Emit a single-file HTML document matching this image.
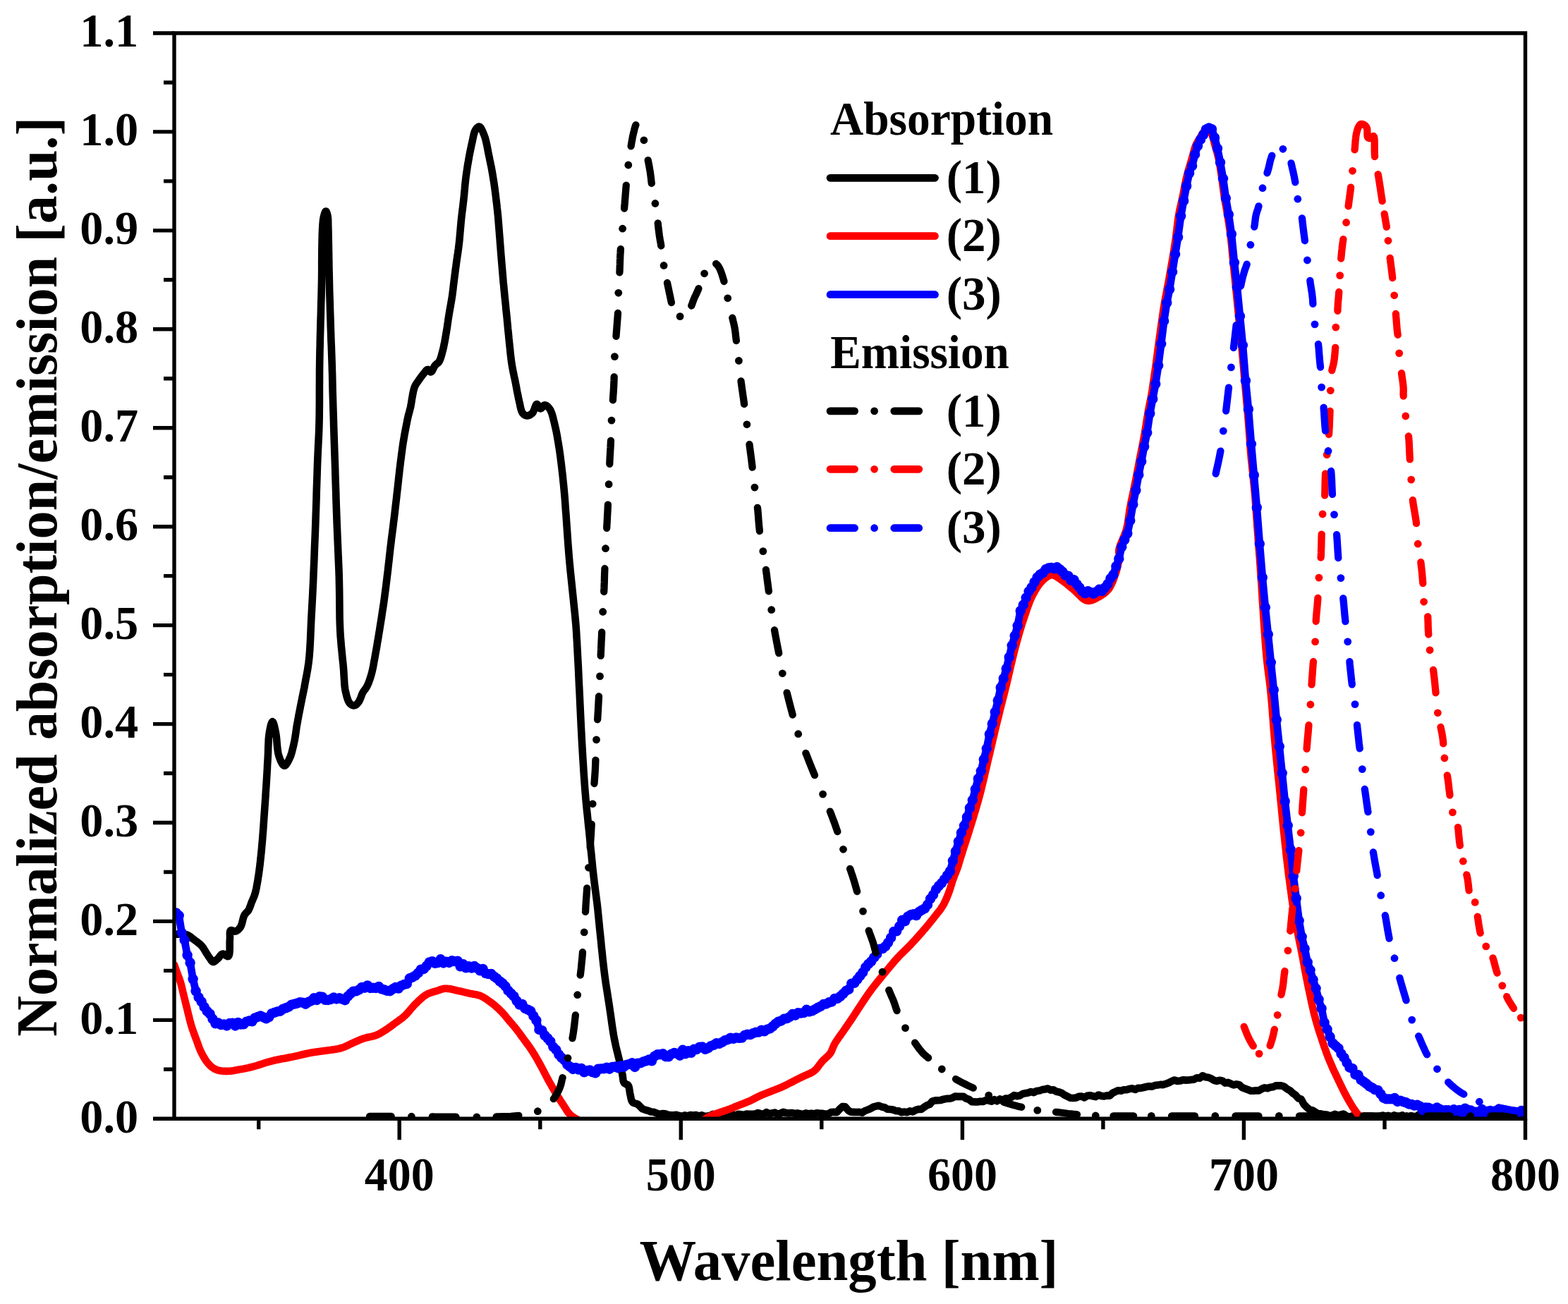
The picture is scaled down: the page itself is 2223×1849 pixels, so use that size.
<!DOCTYPE html><html><head><meta charset="utf-8"><title>Normalized absorption/emission spectra</title><style>html,body{margin:0;padding:0;background:#fff}svg{display:block}text{font-family:"Liberation Serif","Times New Roman",serif;font-weight:bold}</style></head><body>
<svg width="2223" height="1849" viewBox="0 0 2223 1849">
<rect width="2223" height="1849" fill="#fff"/>
<defs><clipPath id="c"><rect x="247.0" y="47.0" width="1915.5" height="1539.3"/></clipPath></defs>
<g clip-path="url(#c)" fill="none" stroke-linejoin="round" stroke-linecap="round">
<path d="M247.0 1325.0L248.1 1324.9 249.2 1324.8 250.4 1324.7 251.5 1324.6 252.6 1324.6 253.7 1324.5 254.9 1324.5 256.0 1324.5 257.2 1324.5 258.5 1324.6 259.7 1324.7 261.0 1324.8 262.2 1324.9 263.4 1325.1 264.6 1325.4 265.8 1325.8 266.9 1326.3 268.0 1326.9 269.1 1327.6 270.1 1328.4 271.1 1329.2 272.1 1330.1 273.2 1330.9 274.3 1331.8 275.7 1332.8 277.2 1333.9 278.7 1335.0 280.2 1336.1 281.7 1337.3 283.2 1338.5 284.5 1339.7 285.8 1341.0 286.9 1342.3 287.9 1343.7 288.8 1345.1 289.7 1346.6 290.6 1348.0 291.4 1349.4 292.2 1350.8 293.0 1352.0 293.6 1352.9 294.1 1353.7 294.6 1354.5 295.1 1355.3 295.6 1356.1 296.1 1356.8 296.7 1357.6 297.2 1358.3 297.8 1359.1 298.3 1360.0 298.9 1360.9 299.5 1361.8 300.1 1362.6 300.7 1363.3 301.3 1363.8 302.0 1364.0 302.8 1364.0 303.6 1363.6 304.4 1363.1 305.3 1362.5 306.1 1361.7 307.0 1360.9 307.9 1360.1 308.7 1359.4 309.6 1358.6 310.4 1357.6 311.3 1356.5 312.1 1355.4 312.9 1354.4 313.8 1353.5 314.7 1352.9 315.6 1352.5 316.6 1352.6 317.6 1353.0 318.7 1353.7 319.8 1354.5 320.9 1355.2 321.9 1355.8 322.8 1356.1 323.6 1356.0 324.6 1354.7 325.2 1352.4 325.5 1349.4 325.7 1345.8 325.7 1342.0 325.7 1338.3 325.7 1334.8 325.9 1331.9 326.0 1330.0 326.0 1328.1 325.9 1326.2 325.9 1324.3 325.9 1322.7 326.1 1321.2 326.4 1320.1 327.0 1319.3 327.6 1319.1 328.4 1319.1 329.2 1319.3 330.2 1319.7 331.1 1320.1 332.1 1320.4 333.0 1320.6 333.9 1320.5 334.8 1320.2 335.8 1319.7 336.7 1319.1 337.6 1318.4 338.4 1317.6 339.3 1316.7 340.1 1315.7 340.8 1314.7 341.7 1313.0 342.5 1311.0 343.2 1308.7 343.8 1306.3 344.4 1303.8 345.0 1301.5 345.7 1299.4 346.5 1297.6 347.2 1296.6 347.9 1295.6 348.6 1294.8 349.4 1294.0 350.1 1293.3 350.9 1292.5 351.6 1291.7 352.2 1290.7 352.9 1289.4 353.5 1288.1 354.1 1286.7 354.6 1285.2 355.2 1283.7 355.7 1282.2 356.2 1280.7 356.8 1279.2 357.4 1277.8 358.0 1276.4 358.6 1275.0 359.2 1273.6 359.8 1272.2 360.4 1270.8 360.9 1269.3 361.4 1267.8 361.9 1266.0 362.4 1264.1 362.8 1262.2 363.3 1260.2 363.7 1258.2 364.0 1256.1 364.4 1254.0 364.8 1251.8 365.3 1249.2 365.7 1246.5 366.1 1243.7 366.6 1240.9 367.0 1238.0 367.4 1235.1 367.8 1232.0 368.2 1228.9 368.7 1225.0 369.1 1220.9 369.6 1216.7 370.0 1212.5 370.5 1208.1 370.9 1203.6 371.3 1199.1 371.7 1194.5 372.2 1189.0 372.6 1183.4 373.1 1177.5 373.5 1171.6 373.9 1165.7 374.3 1159.8 374.7 1154.2 375.1 1148.7 375.4 1144.2 375.7 1139.8 376.0 1135.6 376.3 1131.4 376.6 1127.2 376.8 1123.0 377.1 1118.8 377.4 1114.4 377.7 1109.6 378.0 1104.7 378.3 1099.7 378.6 1094.7 378.9 1089.7 379.1 1084.8 379.4 1079.8 379.7 1075.0 379.9 1070.4 380.1 1065.8 380.2 1061.1 380.4 1056.5 380.6 1052.1 380.8 1047.8 381.2 1043.7 381.7 1040.0 382.1 1037.4 382.7 1034.6 383.2 1031.8 383.8 1029.2 384.4 1026.8 385.1 1025.0 385.7 1023.8 386.3 1023.3 386.9 1023.7 387.5 1024.8 388.1 1026.5 388.7 1028.6 389.3 1031.0 389.8 1033.5 390.4 1036.1 390.9 1038.5 391.5 1042.2 392.0 1046.3 392.4 1050.8 392.8 1055.4 393.2 1060.0 393.8 1064.4 394.5 1068.5 395.4 1072.0 396.2 1074.3 397.0 1076.6 398.0 1078.9 399.0 1081.0 400.0 1082.9 401.0 1084.4 402.1 1085.4 403.1 1085.8 404.0 1085.6 405.0 1084.8 406.0 1083.6 407.0 1082.1 408.0 1080.5 409.0 1078.6 409.9 1076.8 410.7 1075.1 411.7 1072.9 412.6 1070.4 413.4 1067.9 414.1 1065.2 414.8 1062.4 415.5 1059.5 416.2 1056.7 416.8 1053.8 417.5 1050.5 418.1 1047.2 418.7 1043.7 419.2 1040.2 419.7 1036.7 420.2 1033.1 420.7 1029.7 421.3 1026.3 421.9 1023.2 422.4 1020.2 423.0 1017.2 423.5 1014.2 424.1 1011.2 424.7 1008.2 425.3 1005.2 425.9 1002.0 426.6 998.4 427.4 994.7 428.1 990.9 428.9 987.1 429.7 983.3 430.5 979.4 431.3 975.5 432.0 971.5 432.8 967.1 433.6 962.8 434.5 958.4 435.3 953.9 436.1 949.3 436.8 944.7 437.5 939.9 438.1 934.9 438.7 928.5 439.2 921.9 439.6 914.9 440.0 907.8 440.3 900.7 440.6 893.6 440.9 886.7 441.2 880.0 441.5 874.2 441.8 868.6 442.1 863.2 442.4 857.9 442.7 852.4 443.0 846.7 443.3 840.7 443.6 834.3 444.1 824.4 444.5 813.7 445.0 802.3 445.5 790.6 445.9 778.6 446.4 766.5 446.9 754.5 447.3 742.9 447.7 731.3 448.1 719.4 448.5 707.4 448.8 695.5 449.2 683.8 449.6 672.4 449.9 661.6 450.3 651.4 450.6 644.3 450.9 637.8 451.2 631.5 451.5 625.5 451.8 619.5 452.1 613.3 452.3 606.9 452.5 600.0 452.7 590.7 452.8 580.8 452.9 570.4 452.9 559.8 452.9 549.3 453.0 539.0 453.0 529.1 453.1 520.0 453.2 513.5 453.3 507.3 453.4 501.5 453.5 495.8 453.7 490.1 453.8 484.3 453.9 478.3 454.1 472.0 454.3 464.1 454.5 455.9 454.8 447.6 455.0 439.1 455.2 430.4 455.5 421.6 455.7 412.8 455.9 404.0 456.1 394.0 456.2 383.4 456.2 372.3 456.3 361.4 456.4 350.8 456.6 341.0 456.8 332.2 457.1 325.0 457.3 322.1 457.4 319.4 457.6 317.0 457.8 314.7 458.0 312.6 458.3 310.6 458.6 308.8 459.0 307.0 459.3 305.8 459.7 304.5 460.0 303.3 460.4 302.1 460.8 301.1 461.2 300.2 461.6 299.7 462.0 299.5 462.3 299.7 462.7 300.1 463.0 300.9 463.4 301.8 463.7 302.8 464.0 303.9 464.3 305.0 464.5 306.0 464.8 307.5 464.9 309.0 465.1 310.6 465.1 312.3 465.2 314.2 465.2 316.2 465.2 318.5 465.3 321.0 465.5 328.2 465.7 337.2 465.9 347.6 466.1 358.8 466.3 370.5 466.5 382.3 466.8 393.6 467.0 404.0 467.2 412.9 467.5 421.8 467.8 430.5 468.0 439.2 468.3 447.7 468.6 456.0 468.8 464.1 469.1 472.0 469.3 478.4 469.5 484.7 469.8 490.8 470.0 496.8 470.2 502.7 470.4 508.5 470.6 514.3 470.8 520.0 470.9 525.1 471.1 529.9 471.2 534.6 471.3 539.2 471.4 544.0 471.5 548.9 471.6 554.2 471.8 560.0 472.1 569.6 472.4 580.2 472.8 591.5 473.1 603.4 473.5 615.5 473.9 627.7 474.3 639.7 474.7 651.4 475.1 662.9 475.4 674.5 475.8 686.1 476.2 697.7 476.5 709.2 476.9 720.6 477.3 731.9 477.7 742.9 478.1 752.7 478.5 762.4 478.9 771.9 479.3 781.4 479.7 790.8 480.1 800.1 480.5 809.5 480.8 819.0 481.0 828.6 481.2 838.4 481.3 848.3 481.4 858.1 481.5 867.8 481.6 877.3 481.9 886.5 482.3 895.3 482.7 902.3 483.3 909.2 483.8 915.9 484.5 922.5 485.1 928.9 485.7 935.1 486.4 941.1 486.9 947.0 487.3 951.6 487.5 956.2 487.8 960.7 488.1 965.0 488.3 969.2 488.7 973.2 489.2 977.0 489.9 980.6 490.5 983.1 491.1 985.6 491.7 988.0 492.5 990.3 493.2 992.5 494.1 994.4 495.0 996.1 496.0 997.4 496.7 998.1 497.4 998.7 498.2 999.2 499.0 999.7 499.8 1000.0 500.6 1000.3 501.3 1000.4 502.1 1000.4 502.9 1000.2 503.7 999.9 504.5 999.5 505.3 998.9 506.0 998.2 506.8 997.4 507.5 996.6 508.2 995.8 509.1 994.5 509.9 992.9 510.6 991.1 511.4 989.3 512.1 987.4 512.8 985.5 513.5 983.7 514.3 982.1 515.0 980.9 515.8 979.7 516.6 978.7 517.4 977.6 518.2 976.6 518.9 975.5 519.7 974.3 520.4 973.0 521.3 971.2 522.1 969.3 522.9 967.4 523.6 965.3 524.4 963.2 525.1 960.9 525.8 958.6 526.5 956.2 527.4 952.9 528.2 949.3 529.0 945.6 529.7 941.7 530.4 937.8 531.2 933.7 531.9 929.7 532.6 925.7 533.4 921.3 534.2 916.8 534.9 912.3 535.7 907.8 536.5 903.2 537.2 898.5 538.0 893.9 538.7 889.2 539.5 884.3 540.3 879.4 541.1 874.4 541.8 869.4 542.6 864.3 543.4 859.4 544.1 854.4 544.8 849.5 545.4 844.9 546.0 840.3 546.6 835.8 547.2 831.3 547.7 826.7 548.3 822.2 548.8 817.6 549.4 813.0 550.0 808.1 550.5 803.2 551.1 798.2 551.7 793.2 552.2 788.1 552.8 783.1 553.3 778.2 553.9 773.3 554.5 768.7 555.0 764.1 555.6 759.6 556.2 755.0 556.8 750.5 557.4 746.0 557.9 741.4 558.5 736.8 559.1 731.9 559.7 727.0 560.2 722.1 560.8 717.1 561.4 712.1 562.0 707.1 562.5 702.2 563.1 697.2 563.7 692.2 564.2 687.2 564.8 682.2 565.3 677.1 565.9 672.1 566.4 667.2 567.0 662.3 567.6 657.5 568.1 653.2 568.7 648.9 569.2 644.7 569.8 640.5 570.3 636.4 570.9 632.2 571.5 628.1 572.2 624.0 572.9 619.9 573.6 615.7 574.4 611.5 575.2 607.3 576.0 603.2 576.8 599.2 577.5 595.5 578.3 592.0 578.8 589.7 579.4 587.5 579.9 585.4 580.5 583.4 581.0 581.4 581.5 579.5 582.0 577.6 582.4 575.6 582.7 573.8 583.0 572.1 583.3 570.3 583.6 568.6 583.8 566.9 584.1 565.2 584.4 563.5 584.7 561.8 585.0 560.0 585.4 558.3 585.7 556.5 586.1 554.7 586.5 552.9 587.0 551.2 587.5 549.5 588.1 548.0 588.7 546.7 589.3 545.6 590.0 544.4 590.7 543.3 591.5 542.2 592.3 541.2 593.0 540.1 593.8 539.0 594.6 537.8 595.5 536.6 596.3 535.4 597.2 534.2 598.1 533.1 599.0 531.9 599.8 530.8 600.7 529.8 601.4 528.9 602.1 528.0 602.9 527.0 603.6 526.1 604.3 525.3 605.0 524.6 605.7 524.2 606.4 524.0 607.0 524.1 607.6 524.5 608.2 525.1 608.7 525.8 609.3 526.5 609.9 527.1 610.4 527.4 611.0 527.5 611.7 527.1 612.4 526.3 613.1 525.1 613.8 523.7 614.5 522.2 615.2 520.8 615.9 519.4 616.7 518.3 617.4 517.5 618.1 516.8 618.9 516.2 619.7 515.6 620.4 515.0 621.2 514.4 621.9 513.6 622.5 512.7 623.3 511.2 624.1 509.6 624.7 507.8 625.3 505.9 625.9 503.9 626.5 501.8 627.0 499.7 627.6 497.5 628.3 494.7 629.0 491.7 629.6 488.5 630.3 485.3 630.9 482.1 631.5 478.8 632.0 475.5 632.6 472.3 633.1 469.2 633.6 466.0 634.1 462.9 634.5 459.7 635.0 456.5 635.4 453.4 635.9 450.2 636.4 447.1 636.9 444.0 637.5 440.8 638.0 437.7 638.6 434.6 639.1 431.4 639.7 428.3 640.2 425.1 640.7 422.0 641.2 418.9 641.6 415.7 642.0 412.6 642.4 409.4 642.7 406.3 643.1 403.1 643.5 400.0 643.9 396.8 644.3 393.6 644.7 390.5 645.1 387.3 645.5 384.2 645.9 381.0 646.4 377.9 646.8 374.7 647.2 371.6 647.6 368.5 648.1 365.4 648.5 362.3 649.0 359.3 649.4 356.2 649.9 353.0 650.3 349.8 650.7 346.4 651.2 342.2 651.6 337.9 652.0 333.4 652.4 328.9 652.8 324.3 653.2 319.8 653.6 315.3 654.0 311.1 654.4 307.5 654.8 304.0 655.2 300.5 655.7 297.1 656.1 293.7 656.5 290.3 656.9 286.9 657.3 283.4 657.7 279.7 658.1 275.9 658.4 272.0 658.8 268.2 659.1 264.3 659.5 260.5 659.9 256.8 660.3 253.1 660.7 249.8 661.2 246.7 661.6 243.5 662.1 240.4 662.5 237.3 663.0 234.2 663.6 231.1 664.1 228.0 664.7 224.8 665.2 221.6 665.8 218.4 666.5 215.2 667.1 212.0 667.8 208.8 668.4 205.8 669.1 202.8 669.7 200.2 670.2 197.6 670.8 194.9 671.3 192.3 671.9 189.9 672.6 187.6 673.3 185.7 674.2 184.0 674.8 183.1 675.4 182.3 676.1 181.5 676.8 180.8 677.5 180.2 678.2 179.7 678.8 179.5 679.5 179.5 680.5 180.0 681.4 181.0 682.4 182.5 683.3 184.3 684.3 186.3 685.1 188.4 686.0 190.6 686.8 192.7 687.8 195.6 688.7 198.9 689.5 202.3 690.3 205.9 691.0 209.6 691.7 213.3 692.4 216.9 693.1 220.4 693.8 223.6 694.4 226.8 695.1 229.9 695.7 233.1 696.4 236.2 697.0 239.3 697.5 242.5 698.1 245.6 698.6 248.7 699.1 251.8 699.6 254.9 700.1 258.0 700.6 261.1 701.0 264.3 701.5 267.5 701.9 270.8 702.4 274.7 702.9 278.7 703.4 282.8 703.9 287.0 704.4 291.1 704.8 295.3 705.3 299.4 705.7 303.5 706.1 307.3 706.4 311.1 706.7 314.8 707.0 318.5 707.3 322.2 707.6 326.0 707.9 329.9 708.2 333.8 708.6 338.3 708.9 343.0 709.3 347.7 709.7 352.4 710.0 357.2 710.4 362.1 710.8 366.8 711.2 371.6 711.6 376.3 712.0 381.1 712.4 385.8 712.8 390.5 713.2 395.2 713.6 400.0 714.1 404.7 714.5 409.4 715.0 414.1 715.4 418.8 715.9 423.5 716.4 428.3 716.9 433.0 717.3 437.7 717.8 442.4 718.3 447.1 718.8 451.8 719.2 456.6 719.7 461.4 720.1 466.2 720.6 470.9 721.1 475.6 721.5 480.3 722.0 484.9 722.4 489.1 722.9 493.4 723.3 497.6 723.7 501.7 724.2 505.8 724.7 509.9 725.2 513.8 725.8 517.7 726.4 521.0 727.0 524.2 727.6 527.4 728.3 530.5 728.9 533.6 729.6 536.7 730.3 539.8 730.9 542.9 731.5 546.1 732.1 549.3 732.7 552.6 733.3 555.8 734.0 559.0 734.6 562.1 735.2 565.2 735.9 568.1 736.4 570.6 737.0 573.1 737.5 575.6 738.0 578.0 738.6 580.3 739.2 582.4 740.0 584.2 740.9 585.7 741.6 586.5 742.3 587.2 743.1 587.9 743.9 588.4 744.7 588.8 745.5 589.2 746.4 589.4 747.2 589.5 748.1 589.5 749.1 589.2 750.1 588.9 751.1 588.4 752.1 587.9 753.0 587.2 754.0 586.5 754.8 585.7 755.8 584.4 756.6 582.6 757.4 580.6 758.2 578.5 758.9 576.5 759.6 574.8 760.3 573.6 761.1 573.1 761.7 573.3 762.3 574.0 762.9 575.0 763.5 576.1 764.1 577.3 764.8 578.3 765.4 579.1 766.1 579.4 766.8 579.2 767.6 578.7 768.4 577.9 769.1 577.0 770.0 576.0 770.8 575.2 771.6 574.6 772.4 574.4 773.3 574.5 774.2 574.9 775.1 575.4 776.1 576.2 777.0 577.0 777.9 578.0 778.7 579.0 779.5 580.1 780.6 582.0 781.6 584.3 782.6 586.9 783.4 589.7 784.2 592.7 784.9 595.7 785.7 598.8 786.4 601.8 787.2 605.3 788.0 608.8 788.8 612.5 789.5 616.2 790.2 620.0 790.8 623.9 791.5 627.7 792.1 631.6 792.8 635.8 793.4 640.0 794.0 644.3 794.6 648.6 795.1 653.0 795.7 657.3 796.2 661.7 796.7 666.0 797.2 670.3 797.7 674.5 798.1 678.6 798.5 682.8 799.0 687.1 799.4 691.4 799.8 695.8 800.2 700.3 800.7 705.7 801.1 711.3 801.5 717.0 801.9 722.8 802.4 728.6 802.8 734.5 803.2 740.3 803.6 746.1 804.0 751.8 804.4 757.6 804.8 763.3 805.2 769.0 805.6 774.7 806.1 780.5 806.5 786.2 807.0 791.9 807.5 797.6 808.1 803.4 808.6 809.1 809.2 814.8 809.8 820.5 810.4 826.3 811.0 832.0 811.6 837.7 812.2 843.5 812.8 849.3 813.4 855.1 814.0 860.9 814.6 866.7 815.2 872.4 815.7 878.0 816.2 883.5 816.6 888.2 816.9 892.6 817.2 897.0 817.4 901.3 817.7 905.7 818.0 910.2 818.2 914.9 818.5 920.0 818.9 927.6 819.3 935.7 819.8 944.2 820.2 953.0 820.6 962.0 821.0 971.0 821.5 980.0 821.9 988.7 822.3 997.3 822.7 1005.9 823.1 1014.5 823.5 1023.1 823.9 1031.6 824.4 1040.2 824.8 1048.8 825.3 1057.4 825.8 1066.0 826.3 1074.7 826.9 1083.4 827.4 1092.1 828.0 1100.8 828.6 1109.4 829.2 1117.8 829.9 1126.1 830.5 1133.5 831.2 1140.8 831.9 1148.0 832.7 1155.1 833.4 1162.1 834.1 1169.2 834.9 1176.3 835.6 1183.4 836.3 1190.6 837.0 1197.9 837.7 1205.1 838.5 1212.4 839.2 1219.6 839.9 1226.8 840.6 1233.8 841.4 1240.6 842.1 1246.6 842.8 1252.6 843.6 1258.5 844.3 1264.3 845.1 1270.0 845.8 1275.6 846.5 1281.0 847.1 1286.4 847.6 1290.8 848.0 1294.9 848.4 1298.9 848.8 1302.9 849.2 1306.9 849.6 1311.0 850.0 1315.4 850.5 1320.0 851.2 1326.9 852.0 1334.3 852.7 1342.1 853.6 1350.1 854.4 1358.2 855.3 1366.3 856.2 1374.0 857.1 1381.4 857.9 1387.4 858.7 1393.3 859.6 1399.0 860.5 1404.7 861.4 1410.3 862.2 1415.8 863.1 1421.4 864.0 1427.1 864.8 1432.9 865.7 1438.6 866.5 1444.5 867.3 1450.3 868.1 1456.0 869.0 1461.7 869.9 1467.4 870.9 1472.9 872.0 1478.1 873.1 1483.4 874.4 1488.7 875.7 1493.9 876.9 1498.9 878.1 1503.6 879.1 1507.9 880.0 1511.7 880.4 1513.6 880.8 1515.3 881.1 1516.8 881.4 1518.3 881.7 1519.7 881.9 1521.1 882.2 1522.5 882.5 1524.0 882.7 1525.5 882.9 1527.0 883.1 1528.5 883.3 1530.1 883.5 1531.5 883.8 1532.9 884.1 1534.0 884.6 1535.0 884.9 1535.5 885.3 1535.9 885.8 1536.2 886.2 1536.5 886.7 1536.8 887.1 1537.0 887.6 1537.2 888.0 1537.5 888.4 1537.7 888.7 1537.8 889.1 1538.0 889.4 1538.1 889.8 1538.2 890.1 1538.4 890.4 1538.7 890.7 1539.0 891.2 1540.0 891.6 1541.3 892.0 1543.0 892.3 1544.8 892.6 1546.6 892.8 1548.5 893.1 1550.4 893.5 1552.0 893.8 1553.4 894.1 1554.9 894.4 1556.4 894.7 1557.9 895.1 1559.3 895.5 1560.6 896.1 1561.7 896.8 1562.7 897.5 1563.4 898.4 1563.9 899.4 1564.2 900.4 1564.5 901.5 1564.8 902.5 1565.1 903.5 1565.5 904.4 1566.0 907.0 1568.4 911.0 1572.4 915.0 1573.9 919.0 1574.9 923.0 1576.5 927.0 1576.8 930.9 1578.4 934.9 1580.1 938.9 1579.0 942.9 1579.3 946.9 1580.8 950.9 1581.1 954.9 1581.3 958.9 1580.8 962.9 1582.0 966.9 1582.9 970.8 1581.4 974.8 1582.3 978.8 1581.1 982.8 1581.6 986.8 1581.1 990.8 1582.5 994.8 1581.4 998.8 1582.7 1002.8 1582.5 1006.8 1582.1 1010.7 1579.8 1014.7 1581.4 1018.7 1581.7 1022.7 1581.7 1026.7 1580.0 1030.7 1580.8 1034.7 1580.1 1038.7 1580.1 1042.7 1581.6 1046.7 1579.8 1050.6 1580.3 1054.6 1581.0 1058.6 1579.5 1062.6 1579.7 1066.6 1579.7 1070.6 1579.5 1074.6 1578.1 1078.6 1579.1 1082.6 1580.0 1086.6 1577.2 1090.5 1579.3 1094.5 1578.4 1098.5 1577.6 1102.5 1579.9 1106.5 1578.7 1110.5 1576.9 1114.5 1578.1 1118.5 1578.6 1122.5 1578.0 1126.5 1578.9 1130.4 1578.4 1134.4 1579.2 1138.4 1580.1 1142.4 1578.4 1146.4 1579.3 1150.4 1578.8 1154.4 1579.4 1158.4 1578.2 1162.4 1578.7 1166.4 1578.9 1170.3 1579.6 1174.3 1579.6 1178.3 1577.0 1182.3 1576.9 1186.3 1577.2 1190.3 1572.7 1194.3 1569.1 1198.3 1569.4 1202.3 1574.2 1206.3 1576.8 1210.2 1576.9 1214.2 1577.0 1218.2 1576.8 1222.2 1577.7 1226.2 1575.1 1230.2 1573.6 1234.2 1572.0 1238.2 1569.6 1242.2 1568.5 1246.2 1567.8 1250.1 1569.5 1254.1 1570.2 1258.1 1572.7 1262.1 1573.1 1266.1 1573.5 1270.1 1575.1 1274.1 1575.2 1278.1 1577.2 1282.1 1576.6 1286.1 1577.2 1290.0 1575.4 1294.0 1576.5 1298.0 1574.1 1302.0 1572.8 1306.0 1573.0 1310.0 1570.0 1314.0 1567.3 1318.0 1566.0 1322.0 1561.3 1326.0 1560.4 1329.9 1560.3 1333.9 1559.9 1337.9 1558.7 1341.9 1557.9 1345.9 1557.8 1349.9 1556.8 1353.9 1554.6 1357.9 1554.9 1361.9 1554.9 1365.9 1554.7 1369.8 1557.7 1373.8 1558.9 1377.8 1562.3 1381.8 1562.4 1385.8 1562.5 1389.8 1561.8 1393.8 1561.9 1397.8 1560.0 1401.8 1560.6 1405.8 1561.7 1409.7 1559.1 1413.7 1561.3 1417.7 1558.4 1421.7 1559.9 1425.7 1557.5 1429.7 1557.7 1433.7 1555.8 1437.7 1553.0 1441.7 1554.3 1445.7 1553.5 1449.6 1551.2 1453.6 1550.2 1457.6 1549.5 1461.6 1548.1 1465.6 1549.2 1469.6 1547.0 1473.6 1546.6 1477.6 1545.1 1481.6 1544.5 1485.6 1543.5 1489.5 1545.8 1493.5 1545.2 1497.5 1547.7 1501.5 1548.5 1505.5 1550.0 1509.5 1552.8 1513.5 1554.8 1517.5 1556.8 1521.5 1557.0 1525.5 1556.6 1529.4 1554.8 1533.4 1554.5 1537.4 1556.3 1541.4 1553.8 1545.4 1553.2 1549.4 1554.3 1553.4 1555.1 1557.4 1552.5 1561.4 1554.0 1565.4 1554.5 1569.3 1553.4 1573.3 1553.6 1577.3 1549.9 1581.3 1548.0 1585.3 1546.2 1589.3 1546.7 1593.3 1545.3 1597.3 1545.2 1601.3 1543.9 1605.3 1543.3 1609.2 1545.0 1613.2 1542.8 1617.2 1542.9 1621.2 1542.0 1625.2 1541.0 1629.2 1540.3 1633.2 1540.7 1637.2 1539.1 1641.2 1538.6 1645.2 1537.9 1649.1 1538.1 1653.1 1536.7 1657.1 1535.2 1661.1 1533.1 1665.1 1531.5 1669.1 1533.0 1673.1 1532.6 1677.1 1531.3 1681.1 1531.6 1685.1 1531.5 1689.0 1531.1 1693.0 1530.5 1697.0 1528.2 1701.0 1528.7 1705.0 1525.4 1709.0 1527.3 1713.0 1527.7 1717.0 1529.3 1721.0 1531.8 1725.0 1532.9 1728.9 1531.8 1732.9 1532.4 1736.9 1535.6 1740.9 1534.9 1744.9 1536.7 1748.9 1538.5 1752.9 1537.3 1756.9 1538.2 1760.9 1542.0 1764.9 1543.5 1768.8 1544.9 1772.8 1546.6 1776.8 1546.8 1780.8 1546.3 1784.8 1546.4 1788.8 1544.0 1792.8 1542.3 1796.8 1543.2 1800.8 1541.8 1804.8 1541.3 1808.7 1539.4 1812.7 1539.4 1816.7 1539.4 1820.7 1540.8 1824.7 1544.1 1828.7 1546.2 1832.7 1550.0 1836.7 1552.7 1840.7 1557.4 1844.7 1558.6 1848.6 1566.0 1852.6 1570.0 1856.6 1573.3 1860.6 1574.3 1864.6 1576.8 1868.6 1579.2 1872.6 1579.4 1876.6 1580.3 1880.6 1580.5 1884.6 1582.2 1888.5 1581.6 1892.5 1579.9 1896.5 1581.5 1900.5 1580.6 1904.5 1579.6 1908.5 1582.1 1912.5 1583.8 1916.5 1582.7 1920.5 1581.6 1924.5 1581.7 1928.4 1583.6 1932.4 1582.7 1936.4 1582.6 1940.4 1582.5 1944.4 1582.5 1948.4 1583.2 1952.4 1583.0 1956.4 1582.7 1960.4 1581.6 1964.4 1583.0 1968.3 1581.9 1972.3 1583.5 1976.3 1581.4 1980.3 1582.4 1984.3 1582.6 1988.3 1581.4 1992.3 1584.1 1996.3 1583.9 2000.3 1582.1 2004.3 1583.2 2008.2 1582.9 2012.2 1580.2 2016.2 1582.8 2020.2 1582.5 2024.2 1582.6 2028.2 1581.5 2032.2 1582.3 2036.2 1582.3 2040.2 1583.6 2044.2 1582.8 2048.1 1582.5 2052.1 1583.9 2056.1 1582.0 2060.1 1582.1 2064.1 1580.9 2068.1 1583.9 2072.1 1583.4 2076.1 1583.3 2080.1 1583.1 2084.1 1582.6 2088.0 1582.7 2092.0 1582.3 2096.0 1582.3 2100.0 1582.5 2104.0 1583.9 2108.0 1583.0 2112.0 1582.4 2116.0 1582.0 2120.0 1581.9 2124.0 1583.9 2127.9 1583.0 2131.9 1582.6 2135.9 1582.2 2139.9 1581.5 2143.9 1582.4 2147.9 1583.3 2151.9 1582.1 2155.9 1582.3 2159.9 1582.3" stroke="#000" stroke-width="10.6"/>
<path d="M247.0 1368.0L247.4 1369.2 247.9 1370.5 248.3 1371.7 248.7 1372.9 249.1 1374.2 249.6 1375.4 250.0 1376.7 250.5 1378.0 251.1 1379.5 251.7 1381.1 252.3 1382.7 252.9 1384.3 253.6 1385.9 254.2 1387.6 254.8 1389.4 255.4 1391.2 256.1 1393.5 256.8 1396.0 257.4 1398.6 258.1 1401.2 258.7 1403.9 259.3 1406.5 260.0 1409.2 260.6 1411.8 261.2 1414.4 261.9 1416.9 262.5 1419.5 263.1 1422.1 263.8 1424.7 264.4 1427.3 265.1 1429.8 265.7 1432.4 266.3 1435.0 266.9 1437.6 267.6 1440.1 268.2 1442.7 268.8 1445.3 269.5 1447.9 270.2 1450.4 270.9 1453.0 271.7 1455.6 272.5 1458.2 273.4 1460.8 274.3 1463.3 275.2 1465.9 276.2 1468.5 277.1 1471.0 278.1 1473.6 279.1 1476.2 280.0 1478.9 281.0 1481.5 281.9 1484.2 282.9 1486.8 284.0 1489.3 285.1 1491.8 286.3 1494.2 287.4 1496.3 288.6 1498.5 289.9 1500.5 291.1 1502.6 292.4 1504.5 293.8 1506.3 295.2 1508.0 296.6 1509.6 297.8 1510.8 299.0 1511.9 300.2 1512.9 301.4 1513.8 302.7 1514.7 304.0 1515.5 305.4 1516.2 306.9 1516.8 308.6 1517.4 310.5 1517.9 312.4 1518.2 314.4 1518.5 316.4 1518.7 318.4 1518.8 320.4 1518.9 322.4 1518.9 324.3 1518.8 326.2 1518.7 328.1 1518.5 330.0 1518.2 331.9 1517.9 333.8 1517.5 335.8 1517.2 337.8 1516.8 340.1 1516.4 342.4 1516.0 344.7 1515.6 347.1 1515.1 349.5 1514.6 352.0 1514.1 354.5 1513.5 357.1 1512.9 360.4 1512.0 363.9 1511.0 367.4 1509.9 371.0 1508.7 374.7 1507.5 378.4 1506.3 382.1 1505.3 385.7 1504.3 389.3 1503.5 392.8 1502.7 396.4 1502.0 400.0 1501.3 403.6 1500.7 407.2 1500.0 410.7 1499.3 414.3 1498.6 417.7 1497.9 421.1 1497.1 424.5 1496.3 427.8 1495.5 431.2 1494.8 434.7 1494.0 438.3 1493.2 442.0 1492.5 446.9 1491.7 452.3 1490.9 457.9 1490.2 463.6 1489.5 469.2 1488.8 474.6 1488.0 479.5 1487.1 483.8 1486.0 486.2 1485.2 488.5 1484.4 490.5 1483.5 492.5 1482.6 494.3 1481.7 496.2 1480.8 498.1 1479.9 500.0 1479.0 501.9 1478.2 503.7 1477.4 505.5 1476.6 507.3 1475.7 509.1 1475.0 510.9 1474.2 512.8 1473.4 514.8 1472.7 517.2 1472.0 519.7 1471.3 522.2 1470.8 524.8 1470.2 527.4 1469.6 530.1 1468.9 532.8 1468.1 535.4 1467.0 538.6 1465.4 542.0 1463.4 545.4 1461.3 548.9 1459.0 552.2 1456.6 555.5 1454.3 558.5 1452.0 561.3 1450.0 563.2 1448.7 564.9 1447.4 566.5 1446.2 568.1 1445.1 569.6 1443.9 571.2 1442.7 572.7 1441.3 574.3 1439.9 576.2 1438.0 578.1 1436.0 580.0 1433.9 581.8 1431.6 583.7 1429.4 585.6 1427.2 587.5 1425.1 589.5 1423.1 591.4 1421.3 593.2 1419.5 595.1 1417.7 597.0 1416.0 598.9 1414.4 600.8 1412.8 602.8 1411.4 604.8 1410.2 606.6 1409.2 608.6 1408.4 610.5 1407.7 612.4 1407.0 614.4 1406.4 616.3 1405.9 618.2 1405.3 620.0 1404.8 621.5 1404.3 622.9 1403.8 624.2 1403.3 625.6 1402.8 627.0 1402.4 628.4 1402.1 629.8 1401.8 631.4 1401.7 633.6 1401.7 635.9 1402.0 638.3 1402.3 640.8 1402.8 643.3 1403.4 645.8 1404.0 648.2 1404.6 650.5 1405.1 652.5 1405.5 654.4 1405.9 656.3 1406.4 658.2 1406.8 660.1 1407.3 661.9 1407.7 663.8 1408.2 665.7 1408.6 667.6 1409.0 669.5 1409.3 671.5 1409.7 673.4 1410.0 675.3 1410.3 677.2 1410.8 679.1 1411.3 681.0 1412.0 683.0 1412.9 684.9 1413.9 686.8 1415.0 688.7 1416.2 690.6 1417.5 692.5 1418.8 694.4 1420.1 696.2 1421.5 698.2 1423.0 700.2 1424.6 702.2 1426.3 704.2 1428.1 706.1 1429.8 708.0 1431.5 709.7 1433.3 711.4 1434.9 712.6 1436.2 713.8 1437.4 714.8 1438.7 715.8 1439.9 716.8 1441.1 717.8 1442.4 718.9 1443.7 720.0 1445.0 721.4 1446.6 722.7 1448.2 724.2 1449.9 725.6 1451.5 727.1 1453.3 728.5 1455.0 730.0 1456.7 731.4 1458.5 732.9 1460.4 734.3 1462.3 735.8 1464.2 737.2 1466.1 738.6 1468.1 740.0 1470.1 741.5 1472.0 742.9 1474.0 744.3 1476.0 745.8 1477.9 747.2 1479.9 748.7 1481.8 750.1 1483.8 751.5 1485.8 752.9 1487.9 754.3 1490.0 755.8 1492.3 757.2 1494.7 758.7 1497.0 760.1 1499.5 761.5 1501.9 762.9 1504.4 764.3 1506.9 765.7 1509.4 767.1 1512.0 768.6 1514.7 770.0 1517.4 771.4 1520.2 772.8 1522.9 774.2 1525.6 775.7 1528.3 777.1 1531.0 778.5 1533.6 779.9 1536.1 781.4 1538.6 782.8 1541.1 784.2 1543.6 785.7 1546.1 787.1 1548.6 788.6 1551.0 790.0 1553.3 791.5 1555.7 793.0 1558.0 794.4 1560.4 795.9 1562.6 797.3 1564.8 798.7 1566.9 800.0 1568.9 800.9 1570.3 801.8 1571.7 802.6 1573.0 803.4 1574.3 804.2 1575.6 805.0 1576.8 805.9 1577.9 806.9 1579.0 807.9 1580.0 808.9 1581.0 810.0 1581.9 811.1 1582.8 812.3 1583.6 813.5 1584.4 814.7 1585.2 816.0 1586.0 817.5 1586.9 818.9 1587.7 820.3 1588.5 821.7 1589.3 823.4 1590.0 825.3 1590.7 827.4 1591.4 830.0 1592.0 842.3 1593.7 860.3 1595.0 882.3 1596.0 906.0 1596.6 929.7 1596.8 951.2 1596.8 968.6 1596.5 980.0 1596.0 981.8 1595.8 983.4 1595.7 984.7 1595.5 985.8 1595.4 986.8 1595.1 987.8 1594.8 988.9 1594.5 990.0 1594.0 991.3 1593.3 992.6 1592.5 993.9 1591.5 995.1 1590.4 996.4 1589.4 997.6 1588.3 998.8 1587.4 1000.0 1586.5 1001.0 1585.8 1002.0 1585.2 1003.0 1584.6 1004.0 1584.1 1005.0 1583.5 1006.0 1583.0 1007.0 1582.5 1008.0 1582.0 1009.1 1581.5 1010.2 1581.1 1011.2 1580.6 1012.3 1580.2 1013.5 1579.8 1014.6 1579.4 1015.8 1579.0 1017.1 1578.5 1018.8 1577.9 1020.6 1577.3 1022.6 1576.6 1024.5 1576.0 1026.5 1575.3 1028.5 1574.7 1030.5 1574.0 1032.4 1573.3 1034.3 1572.6 1036.2 1571.8 1038.1 1571.1 1040.0 1570.3 1041.9 1569.5 1043.8 1568.7 1045.7 1568.0 1047.6 1567.2 1049.5 1566.4 1051.4 1565.7 1053.3 1565.0 1055.3 1564.2 1057.2 1563.5 1059.1 1562.7 1061.0 1561.9 1062.9 1561.1 1064.8 1560.2 1066.7 1559.3 1068.6 1558.3 1070.5 1557.3 1072.4 1556.3 1074.3 1555.3 1076.2 1554.4 1078.1 1553.5 1080.0 1552.7 1081.9 1551.9 1083.8 1551.1 1085.7 1550.4 1087.6 1549.6 1089.5 1548.9 1091.4 1548.2 1093.3 1547.4 1095.2 1546.6 1097.1 1545.9 1099.0 1545.2 1101.0 1544.4 1102.9 1543.7 1104.8 1542.9 1106.7 1542.1 1108.6 1541.3 1110.5 1540.4 1112.4 1539.5 1114.3 1538.6 1116.2 1537.6 1118.1 1536.6 1120.0 1535.6 1121.9 1534.7 1123.8 1533.7 1125.7 1532.7 1127.6 1531.8 1129.5 1530.8 1131.4 1529.9 1133.3 1528.9 1135.2 1528.0 1137.1 1527.0 1139.0 1526.1 1140.9 1525.2 1142.9 1524.3 1144.9 1523.5 1146.9 1522.7 1148.9 1521.8 1150.8 1520.8 1152.6 1519.7 1154.3 1518.5 1155.9 1517.1 1157.4 1515.5 1158.9 1513.8 1160.2 1512.0 1161.6 1510.1 1162.9 1508.3 1164.3 1506.6 1165.7 1504.9 1167.1 1503.4 1168.6 1502.0 1170.2 1500.6 1171.7 1499.2 1173.2 1497.8 1174.6 1496.4 1175.9 1495.0 1177.1 1493.4 1178.1 1491.9 1178.9 1490.3 1179.6 1488.6 1180.3 1487.0 1181.0 1485.3 1181.7 1483.5 1182.5 1481.8 1183.4 1480.0 1184.8 1477.6 1186.4 1475.2 1188.1 1472.7 1189.9 1470.1 1191.8 1467.5 1193.6 1465.0 1195.4 1462.4 1197.1 1460.0 1198.6 1457.8 1200.1 1455.7 1201.5 1453.6 1202.9 1451.5 1204.3 1449.5 1205.8 1447.4 1207.2 1445.3 1208.6 1443.2 1210.0 1441.0 1211.4 1438.9 1212.8 1436.8 1214.2 1434.6 1215.6 1432.4 1217.0 1430.2 1218.5 1428.0 1220.0 1425.7 1221.7 1423.1 1223.5 1420.4 1225.3 1417.7 1227.1 1415.0 1229.0 1412.3 1230.9 1409.5 1232.9 1406.7 1235.0 1403.8 1237.6 1400.4 1240.4 1396.8 1243.2 1393.2 1246.2 1389.5 1249.2 1385.9 1252.1 1382.3 1254.9 1378.9 1257.6 1375.7 1259.7 1373.2 1261.6 1370.8 1263.6 1368.5 1265.4 1366.3 1267.3 1364.0 1269.2 1361.8 1271.2 1359.6 1273.2 1357.4 1275.4 1355.1 1277.7 1352.8 1280.0 1350.5 1282.3 1348.2 1284.6 1345.9 1287.0 1343.6 1289.3 1341.3 1291.5 1339.0 1293.6 1336.7 1295.7 1334.5 1297.8 1332.2 1299.9 1329.9 1302.0 1327.6 1304.0 1325.3 1306.0 1323.0 1308.0 1320.7 1309.9 1318.4 1311.9 1316.2 1313.8 1313.9 1315.7 1311.6 1317.6 1309.3 1319.4 1307.0 1321.3 1304.7 1323.1 1302.4 1324.9 1300.1 1326.7 1297.9 1328.5 1295.6 1330.3 1293.3 1332.1 1291.1 1333.8 1288.8 1335.3 1286.4 1336.8 1284.1 1338.1 1281.9 1339.2 1279.6 1340.3 1277.3 1341.4 1275.0 1342.3 1272.7 1343.3 1270.4 1344.2 1268.1 1345.1 1265.8 1345.9 1263.5 1346.7 1261.2 1347.4 1259.0 1348.1 1256.7 1348.8 1254.4 1349.5 1252.1 1350.2 1249.8 1351.0 1247.5 1351.8 1245.2 1352.7 1242.8 1353.6 1240.4 1354.6 1238.1 1355.5 1235.7 1356.4 1233.5 1357.2 1231.3 1357.9 1229.2 1358.4 1227.7 1358.8 1226.4 1359.2 1225.2 1359.5 1223.9 1359.9 1222.7 1360.3 1221.3 1360.8 1219.8 1361.3 1218.0 1362.7 1213.6 1364.4 1208.3 1366.2 1202.4 1368.3 1196.1 1370.4 1189.5 1372.5 1182.8 1374.5 1176.4 1376.4 1170.3 1378.1 1164.9 1379.7 1159.6 1381.3 1154.3 1382.9 1149.1 1384.4 1143.8 1386.0 1138.5 1387.5 1133.1 1389.0 1127.5 1390.6 1121.2 1392.2 1114.7 1393.8 1108.1 1395.4 1101.4 1396.9 1094.7 1398.5 1088.0 1400.0 1081.3 1401.6 1074.6 1403.2 1068.0 1404.7 1061.3 1406.3 1054.7 1407.8 1048.1 1409.4 1041.4 1410.9 1034.8 1412.5 1028.2 1414.1 1021.7 1415.7 1015.4 1417.2 1009.1 1418.8 1002.8 1420.4 996.5 1422.0 990.3 1423.6 984.0 1425.1 977.7 1426.7 971.4 1428.3 964.8 1429.8 958.1 1431.4 951.4 1432.9 944.7 1434.5 938.0 1436.1 931.3 1437.7 924.8 1439.3 918.5 1440.8 912.9 1442.3 907.3 1443.9 901.8 1445.4 896.4 1447.0 891.1 1448.6 885.8 1450.2 880.7 1451.9 875.7 1453.4 871.3 1454.9 867.0 1456.3 862.7 1457.8 858.5 1459.4 854.4 1461.0 850.4 1462.7 846.6 1464.5 843.0 1466.1 840.1 1467.7 837.2 1469.4 834.4 1471.1 831.8 1472.9 829.2 1474.7 826.9 1476.6 824.7 1478.5 822.8 1480.0 821.4 1481.5 820.1 1483.1 818.9 1484.7 817.7 1486.3 816.8 1487.9 816.0 1489.5 815.5 1491.1 815.3 1492.7 815.4 1494.2 815.8 1495.8 816.5 1497.3 817.3 1498.9 818.3 1500.5 819.4 1502.1 820.5 1503.7 821.6 1505.8 823.0 1507.9 824.6 1510.1 826.2 1512.3 828.0 1514.5 829.8 1516.8 831.7 1519.0 833.6 1521.3 835.4 1523.8 837.6 1526.2 840.0 1528.8 842.6 1531.3 845.1 1533.8 847.5 1536.4 849.5 1538.9 851.0 1541.5 851.8 1543.7 851.9 1546.0 851.6 1548.3 851.0 1550.5 850.1 1552.8 849.0 1555.0 847.8 1557.1 846.6 1559.1 845.5 1560.9 844.5 1562.6 843.4 1564.3 842.3 1565.9 841.2 1567.4 839.9 1568.9 838.5 1570.3 837.0 1571.7 835.4 1573.3 833.1 1574.7 830.5 1576.1 827.7 1577.4 824.8 1578.6 821.8 1579.7 818.7 1580.7 815.6 1581.7 812.7 1582.6 809.9 1583.3 807.1 1584.0 804.2 1584.6 801.4 1585.2 798.5 1585.8 795.7 1586.4 792.8 1587.0 790.0" stroke="#f00" stroke-width="10.6"/>
<path d="M1581.7 812.7L1582.4 809.8 1583.2 806.8 1584.0 803.8 1584.8 800.8 1585.6 797.9 1586.2 795.0 1586.7 792.4 1587.0 790.0 1587.0 788.6 1586.9 787.3 1586.8 786.2 1586.6 785.1 1586.4 783.9 1586.2 782.7 1586.2 781.5 1586.3 780.0 1586.9 777.1 1588.0 773.7 1589.4 770.2 1591.0 766.3 1592.7 762.4 1594.3 758.4 1595.8 754.5 1597.0 750.6 1597.9 746.7 1598.7 742.8 1599.3 738.9 1599.9 734.9 1600.5 730.9 1601.0 726.9 1601.6 723.0 1602.3 719.0 1603.1 715.1 1603.8 711.1 1604.7 707.2 1605.5 703.3 1606.3 699.3 1607.2 695.4 1608.0 691.4 1608.8 687.4 1609.6 683.2 1610.5 678.9 1611.3 674.7 1612.1 670.4 1612.9 666.1 1613.8 661.8 1614.6 657.5 1615.4 653.2 1616.2 648.9 1617.1 644.7 1617.9 640.5 1618.7 636.3 1619.6 632.0 1620.4 627.7 1621.2 623.4 1622.0 619.0 1622.9 614.1 1623.7 609.0 1624.6 603.8 1625.4 598.6 1626.2 593.4 1627.1 588.5 1627.8 583.8 1628.6 579.5 1629.1 576.8 1629.6 574.3 1630.1 572.0 1630.5 569.8 1631.0 567.5 1631.5 565.2 1631.9 562.8 1632.4 560.1 1633.1 556.1 1633.8 551.8 1634.4 547.3 1635.1 542.7 1635.8 537.9 1636.5 533.0 1637.2 528.2 1637.9 523.3 1638.7 517.9 1639.4 512.4 1640.1 506.9 1640.9 501.2 1641.6 495.5 1642.4 489.9 1643.1 484.2 1643.9 478.6 1644.7 473.0 1645.4 467.4 1646.2 461.9 1647.0 456.3 1647.8 450.7 1648.6 445.1 1649.4 439.6 1650.3 434.0 1651.2 428.4 1652.2 422.8 1653.3 417.2 1654.3 411.6 1655.4 406.1 1656.5 400.5 1657.5 394.9 1658.5 389.3 1659.5 383.7 1660.4 378.1 1661.4 372.5 1662.4 366.9 1663.3 361.3 1664.2 355.8 1665.1 350.2 1665.9 344.7 1666.7 339.3 1667.4 333.9 1668.1 328.5 1668.7 323.0 1669.4 317.7 1670.0 312.6 1670.7 307.6 1671.5 303.0 1672.1 299.7 1672.7 296.6 1673.4 293.6 1674.1 290.7 1674.7 287.8 1675.4 285.0 1676.0 282.0 1676.7 279.0 1677.4 275.7 1678.0 272.3 1678.7 268.9 1679.3 265.4 1680.0 261.9 1680.7 258.5 1681.4 255.0 1682.2 251.6 1683.1 248.1 1684.0 244.6 1685.0 241.0 1686.0 237.5 1687.1 234.0 1688.1 230.6 1689.1 227.3 1690.0 224.1 1690.7 221.6 1691.4 219.1 1692.0 216.7 1692.6 214.4 1693.3 212.1 1694.0 209.9 1694.7 207.8 1695.5 205.8 1696.2 204.2 1697.0 202.7 1697.8 201.2 1698.6 199.8 1699.5 198.4 1700.3 197.1 1701.1 195.8 1701.9 194.5 1702.5 193.4 1703.2 192.3 1703.8 191.2 1704.4 190.1 1705.0 189.1 1705.6 188.2 1706.3 187.3 1707.0 186.5 1707.6 185.9 1708.3 185.2 1709.0 184.6 1709.7 184.0 1710.4 183.6 1711.1 183.2 1711.7 183.0 1712.4 183.0 1713.1 183.3 1713.9 183.8 1714.6 184.6 1715.3 185.5 1716.0 186.6 1716.7 187.7 1717.3 188.9 1717.9 190.0 1718.6 191.6 1719.3 193.4 1719.9 195.3 1720.4 197.4 1720.9 199.5 1721.4 201.6 1721.9 203.7 1722.5 205.8 1723.1 208.0 1723.8 210.2 1724.4 212.4 1725.1 214.6 1725.7 216.9 1726.3 219.2 1726.9 221.6 1727.5 224.1 1728.2 227.3 1728.8 230.6 1729.4 234.0 1730.0 237.5 1730.5 241.0 1731.0 244.6 1731.6 248.1 1732.1 251.6 1732.6 255.0 1733.1 258.4 1733.5 261.9 1733.9 265.3 1734.4 268.7 1734.8 272.2 1735.3 275.6 1735.8 279.0 1736.4 282.4 1736.9 285.8 1737.5 289.2 1738.2 292.6 1738.8 296.1 1739.4 299.5 1740.0 303.0 1740.6 306.5 1741.2 310.3 1741.8 314.1 1742.4 318.0 1742.9 321.9 1743.5 325.8 1744.0 329.8 1744.5 333.8 1745.0 337.8 1745.5 342.1 1746.0 346.4 1746.4 350.8 1746.8 355.3 1747.2 359.7 1747.6 364.2 1748.1 368.6 1748.5 373.0 1748.9 377.4 1749.4 381.8 1749.8 386.2 1750.3 390.6 1750.8 395.0 1751.2 399.4 1751.7 403.8 1752.1 408.2 1752.5 412.6 1753.0 416.9 1753.4 421.2 1753.8 425.5 1754.3 429.8 1754.7 434.2 1755.1 438.8 1755.6 443.4 1756.2 448.9 1756.7 454.6 1757.3 460.5 1757.9 466.4 1758.5 472.4 1759.1 478.4 1759.7 484.4 1760.3 490.4 1760.9 496.5 1761.4 502.7 1762.0 508.8 1762.5 515.0 1763.1 521.2 1763.6 527.5 1764.1 533.7 1764.7 540.0 1765.3 546.5 1765.9 553.1 1766.5 559.6 1767.1 566.3 1767.7 572.9 1768.3 579.5 1768.9 586.1 1769.5 592.7 1770.0 599.3 1770.5 605.9 1771.0 612.4 1771.5 619.0 1771.9 625.6 1772.4 632.2 1772.9 638.7 1773.5 645.3 1774.1 651.9 1774.8 658.5 1775.5 665.1 1776.2 671.6 1776.9 678.2 1777.5 684.8 1778.2 691.4 1778.8 698.0 1779.4 704.6 1779.9 711.1 1780.4 717.7 1780.8 724.3 1781.3 730.9 1781.8 737.4 1782.2 744.0 1782.7 750.6 1783.2 757.0 1783.7 763.2 1784.1 769.4 1784.6 775.5 1785.1 781.9 1785.6 788.5 1786.1 795.6 1786.7 803.3 1787.6 816.9 1788.7 832.5 1789.7 849.4 1790.9 866.9 1792.0 884.3 1793.2 901.1 1794.3 916.6 1795.5 930.0 1796.2 937.3 1797.0 943.9 1797.7 950.0 1798.5 955.9 1799.2 961.6 1800.0 967.4 1800.7 973.5 1801.4 980.0 1802.2 988.4 1803.0 997.1 1803.7 1006.1 1804.4 1015.2 1805.1 1024.5 1805.8 1033.8 1806.6 1043.0 1807.4 1052.1 1808.2 1061.1 1809.1 1070.2 1810.0 1079.2 1810.9 1088.2 1811.8 1097.2 1812.8 1106.3 1813.7 1115.3 1814.6 1124.3 1815.5 1133.4 1816.4 1142.5 1817.3 1151.6 1818.2 1160.8 1819.1 1169.9 1820.0 1178.8 1821.0 1187.7 1821.9 1196.4 1822.8 1204.2 1823.6 1212.0 1824.5 1219.6 1825.4 1227.2 1826.3 1234.7 1827.2 1242.1 1828.2 1249.4 1829.1 1256.5 1830.0 1262.8 1830.8 1268.9 1831.6 1274.9 1832.5 1280.9 1833.4 1286.8 1834.3 1292.7 1835.3 1298.6 1836.3 1304.6 1837.4 1310.7 1838.6 1317.0 1839.9 1323.2 1841.2 1329.5 1842.4 1335.7 1843.7 1341.6 1844.8 1347.3 1845.9 1352.7 1846.6 1356.5 1847.3 1360.0 1847.9 1363.4 1848.5 1366.7 1849.1 1370.0 1849.7 1373.3 1850.3 1376.6 1851.0 1380.0 1851.7 1383.7 1852.4 1387.4 1853.2 1391.2 1853.9 1395.0 1854.7 1398.8 1855.5 1402.6 1856.3 1406.4 1857.1 1410.3 1858.0 1414.3 1858.8 1418.4 1859.7 1422.5 1860.6 1426.6 1861.6 1430.8 1862.5 1434.9 1863.5 1439.0 1864.6 1443.1 1865.7 1447.2 1866.9 1451.4 1868.2 1455.6 1869.4 1459.7 1870.7 1463.8 1872.1 1467.9 1873.4 1471.9 1874.7 1475.9 1875.9 1479.5 1877.1 1483.0 1878.3 1486.5 1879.6 1490.0 1880.8 1493.4 1882.1 1496.8 1883.4 1500.3 1884.8 1503.7 1886.3 1507.2 1887.8 1510.7 1889.3 1514.2 1890.9 1517.7 1892.5 1521.1 1894.2 1524.6 1895.8 1528.0 1897.4 1531.4 1899.0 1534.7 1900.5 1537.9 1902.1 1541.1 1903.6 1544.4 1905.2 1547.5 1906.8 1550.6 1908.5 1553.7 1910.1 1556.7 1911.6 1559.4 1913.2 1562.2 1914.8 1564.9 1916.4 1567.5 1918.0 1570.1 1919.6 1572.5 1921.2 1574.8 1922.7 1576.9 1923.8 1578.3 1924.8 1579.6 1925.8 1580.8 1926.8 1581.9 1927.8 1583.0 1928.8 1584.0 1929.9 1585.0 1931.0 1586.0 1932.1 1586.9 1933.2 1587.7 1934.3 1588.4 1935.4 1589.2 1936.6 1589.9 1937.7 1590.6 1938.9 1591.3 1940.0 1592.0" stroke="#f00" stroke-width="10.6"/>
<path d="M249.7 1294.4L253.7 1298.3 257.6 1322.6 261.6 1333.0 265.6 1354.4 269.6 1365.2 273.6 1388.3 277.6 1405.3 281.6 1414.1 285.6 1420.4 289.6 1427.8 293.6 1433.8 297.5 1437.6 301.5 1444.8 305.5 1451.4 309.5 1450.5 313.5 1453.1 317.5 1452.4 321.5 1454.5 325.5 1451.0 329.5 1450.8 333.5 1454.5 337.5 1449.9 341.4 1452.6 345.4 1452.3 349.4 1448.6 353.4 1447.5 357.4 1448.4 361.4 1443.4 365.4 1442.0 369.4 1440.4 373.4 1442.5 377.4 1444.3 381.3 1442.1 385.3 1437.1 389.3 1435.6 393.3 1434.4 397.3 1433.7 401.3 1430.6 405.3 1429.3 409.3 1427.6 413.3 1424.7 417.3 1423.6 421.2 1422.7 425.2 1421.2 429.2 1421.7 433.2 1423.7 437.2 1420.8 441.2 1419.1 445.2 1415.1 449.2 1418.0 453.2 1413.2 457.2 1413.8 461.1 1417.9 465.1 1418.0 469.1 1417.0 473.1 1414.4 477.1 1416.5 481.1 1415.3 485.1 1416.6 489.1 1418.2 493.1 1412.8 497.1 1408.8 501.0 1405.6 505.0 1405.4 509.0 1403.4 513.0 1399.9 517.0 1400.7 521.0 1397.4 525.0 1401.0 529.0 1400.7 533.0 1401.0 537.0 1398.9 540.9 1402.4 544.9 1403.5 548.9 1404.9 552.9 1405.2 556.9 1402.3 560.9 1399.9 564.9 1401.6 568.9 1397.6 572.9 1396.0 576.9 1395.0 580.8 1387.3 584.8 1385.7 588.8 1383.4 592.8 1379.7 596.8 1374.7 600.8 1374.0 604.8 1369.6 608.8 1364.4 612.8 1363.1 616.8 1365.9 620.7 1365.1 624.7 1360.3 628.7 1365.5 632.7 1363.7 636.7 1365.0 640.7 1362.3 644.7 1363.1 648.7 1362.6 652.7 1370.4 656.7 1367.3 660.6 1372.4 664.6 1370.1 668.6 1372.6 672.6 1370.0 676.6 1372.9 680.6 1376.3 684.6 1373.9 688.6 1380.1 692.6 1381.1 696.6 1381.0 700.5 1384.6 704.5 1387.5 708.5 1391.4 712.5 1394.3 716.5 1398.5 720.5 1404.7 724.5 1408.6 728.5 1412.7 732.5 1419.1 736.5 1424.6 740.4 1423.9 744.4 1430.0 748.4 1431.6 752.4 1433.8 756.4 1440.7 760.4 1446.9 764.4 1459.9 768.4 1461.2 772.4 1468.2 776.4 1472.2 780.3 1476.7 784.3 1484.5 788.3 1488.5 792.3 1495.3 796.3 1499.9 800.3 1503.5 804.3 1509.6 808.3 1512.7 812.3 1516.0 816.3 1513.9 820.2 1516.6 824.2 1514.9 828.2 1520.4 832.2 1518.3 836.2 1517.4 840.2 1520.3 844.2 1521.5 848.2 1515.6 852.2 1515.5 856.2 1515.3 860.1 1513.8 864.1 1515.7 868.1 1512.9 872.1 1512.4 876.1 1514.2 880.1 1511.2 884.1 1512.8 888.1 1509.9 892.1 1509.0 896.1 1507.3 900.0 1513.0 904.0 1507.8 908.0 1507.4 912.0 1505.5 916.0 1504.3 920.0 1502.5 924.0 1504.3 928.0 1497.6 932.0 1495.3 936.0 1495.3 939.9 1494.3 943.9 1498.2 947.9 1498.4 951.9 1494.6 955.9 1492.9 959.9 1494.0 963.9 1496.7 967.9 1488.8 971.9 1494.2 975.9 1490.3 979.8 1492.8 983.8 1487.8 987.8 1488.0 991.8 1484.6 995.8 1484.5 999.8 1487.9 1003.8 1486.2 1007.8 1483.2 1011.8 1481.8 1015.8 1479.1 1019.7 1479.9 1023.7 1477.9 1027.7 1475.3 1031.7 1474.1 1035.7 1471.7 1039.7 1472.9 1043.7 1471.4 1047.7 1471.9 1051.7 1471.6 1055.7 1467.9 1059.6 1466.7 1063.6 1467.1 1067.6 1465.1 1071.6 1463.6 1075.6 1463.6 1079.6 1460.6 1083.6 1462.3 1087.6 1459.6 1091.6 1458.4 1095.6 1455.3 1099.5 1451.6 1103.5 1448.6 1107.5 1447.5 1111.5 1444.8 1115.5 1444.1 1119.5 1441.9 1123.5 1438.0 1127.5 1439.6 1131.5 1436.2 1135.5 1436.6 1139.4 1436.1 1143.4 1431.8 1147.4 1434.5 1151.4 1433.3 1155.4 1431.1 1159.4 1428.8 1163.4 1427.0 1167.4 1424.0 1171.4 1423.5 1175.4 1421.3 1179.3 1420.5 1183.3 1415.9 1187.3 1415.8 1191.3 1412.8 1195.3 1409.1 1199.3 1405.0 1203.3 1402.9 1207.3 1394.6 1211.3 1393.9 1215.3 1388.8 1219.2 1383.9 1223.2 1378.8 1227.2 1371.7 1231.2 1366.9 1235.2 1363.1 1239.2 1357.7 1243.2 1352.9 1247.2 1345.6 1251.2 1345.1 1255.2 1341.9 1259.1 1336.6 1263.1 1329.7 1267.1 1321.0 1271.1 1320.4 1275.1 1313.5 1279.1 1304.8 1283.1 1306.2 1287.1 1299.6 1291.1 1297.3 1295.1 1296.3 1299.0 1298.1 1303.0 1292.9 1307.0 1290.4 1311.0 1288.2 1315.0 1282.8 1319.0 1274.5 1323.0 1268.8 1327.0 1261.2 1331.0 1256.1 1335.0 1252.1 1338.9 1246.9 1342.9 1241.2 1346.9 1235.3 1350.9 1220.6 1354.9 1207.0 1358.9 1193.4 1362.9 1180.8 1366.9 1170.8 1370.9 1158.7 1374.9 1145.7 1378.8 1134.5 1382.8 1119.0 1386.8 1104.1 1390.8 1093.4 1394.8 1076.8 1398.8 1061.5 1402.8 1041.0 1406.8 1026.2 1410.8 1009.5 1414.8 993.2 1418.7 974.9 1422.7 962.1 1426.7 948.2 1430.7 931.9 1434.7 915.3 1438.7 901.5 1442.7 887.3 1446.7 866.1 1450.7 857.9 1454.7 847.6 1458.6 838.6 1462.6 832.9 1466.6 825.4 1470.6 818.7 1474.6 814.7 1478.6 812.4 1482.6 807.3 1486.6 805.5 1490.6 804.9 1494.6 806.4 1498.5 804.3 1502.5 807.3 1506.5 810.8 1510.5 815.8 1514.5 816.6 1518.5 822.8 1522.5 822.3 1526.5 828.4 1530.5 833.2 1534.5 838.5 1538.4 841.3 1542.4 838.3 1546.4 840.0 1550.4 841.9 1554.4 839.1 1558.4 835.8 1562.4 838.0 1566.4 833.3 1570.4 828.2 1574.4 820.1 1578.3 815.0 1582.3 803.1 1586.3 792.2 1590.3 775.5 1594.3 765.3 1598.3 756.6 1602.3 738.0 1606.3 715.2 1610.3 695.4 1614.3 673.2 1618.2 654.2 1622.2 633.1 1626.2 613.6 1630.2 586.4 1634.2 565.7 1638.2 544.5 1642.2 518.1 1646.2 487.5 1650.2 455.0 1654.2 429.4 1658.1 410.2 1662.1 385.5 1666.1 360.5 1670.1 336.1 1674.1 306.3 1678.1 284.7 1682.1 263.7 1686.1 245.6 1690.1 235.2 1694.1 219.0 1698.0 206.8 1702.0 198.0 1706.0 191.1 1710.0 183.4 1714.0 181.4 1718.0 183.1 1722.0 195.2 1726.0 210.6 1730.0 230.4 1734.0 253.3 1737.9 281.0 1741.9 304.2 1745.9 331.9 1749.9 372.3 1753.9 407.3 1757.9 448.4 1761.9 489.5 1765.9 539.7 1769.9 580.2 1773.9 629.5 1777.8 673.7 1781.8 719.7 1785.8 771.0 1789.8 818.8 1793.8 861.2 1797.8 899.5 1801.8 939.3 1805.8 978.1 1809.8 1020.6 1813.8 1058.5 1817.7 1096.3 1821.7 1136.1 1825.7 1170.5 1829.7 1204.7 1833.7 1242.3 1837.7 1273.9 1841.7 1305.5 1845.7 1328.3 1849.7 1345.2 1853.7 1364.3 1857.6 1375.5 1861.6 1389.1 1865.6 1401.5 1869.6 1417.3 1873.6 1429.9 1877.6 1449.8 1881.6 1459.5 1885.6 1470.1 1889.6 1479.4 1893.6 1483.0 1897.5 1486.4 1901.5 1494.2 1905.5 1499.7 1909.5 1507.0 1913.5 1513.7 1917.5 1515.1 1921.5 1523.7 1925.5 1524.3 1929.5 1531.2 1933.5 1533.9 1937.4 1536.8 1941.4 1540.3 1945.4 1542.4 1949.4 1545.1 1953.4 1545.9 1957.4 1551.2 1961.4 1556.6 1965.4 1558.4 1969.4 1558.4 1973.4 1558.4 1977.3 1557.0 1981.3 1562.0 1985.3 1560.7 1989.3 1562.2 1993.3 1563.3 1997.3 1565.5 2001.3 1565.9 2005.3 1567.6 2009.3 1566.8 2013.3 1568.8 2017.2 1574.2 2021.2 1570.5 2025.2 1570.7 2029.2 1572.5 2033.2 1573.3 2037.2 1570.5 2041.2 1572.6 2045.2 1575.0 2049.2 1574.2 2053.2 1574.3 2057.1 1577.1 2061.1 1573.3 2065.1 1574.9 2069.1 1574.0 2073.1 1577.7 2077.1 1571.6 2081.1 1574.0 2085.1 1574.4 2089.1 1576.6 2093.1 1576.7 2097.0 1578.2 2101.0 1573.0 2105.0 1577.3 2109.0 1575.6 2113.0 1575.0 2117.0 1577.4 2121.0 1574.9 2125.0 1572.9 2129.0 1576.1 2133.0 1574.2 2136.9 1575.9 2140.9 1577.9 2144.9 1577.9 2148.9 1580.3 2152.9 1577.2 2156.9 1575.0 2160.9 1576.5 2164.9 1576.3" stroke="#00f" stroke-width="10.8"/>
<g fill="#00f" stroke="none"><circle cx="249.7" cy="1294.4" r="7.2"/><circle cx="253.7" cy="1298.3" r="7.2"/><circle cx="257.6" cy="1322.6" r="7.2"/><circle cx="261.6" cy="1333.0" r="7.2"/><circle cx="265.6" cy="1354.4" r="7.2"/><circle cx="269.6" cy="1365.2" r="7.2"/><circle cx="273.6" cy="1388.3" r="7.2"/><circle cx="277.6" cy="1405.3" r="7.2"/><circle cx="281.6" cy="1414.1" r="7.2"/><circle cx="285.6" cy="1420.4" r="7.2"/><circle cx="289.6" cy="1427.8" r="7.2"/><circle cx="293.6" cy="1433.8" r="7.2"/><circle cx="297.5" cy="1437.6" r="7.2"/><circle cx="301.5" cy="1444.8" r="7.2"/><circle cx="305.5" cy="1451.4" r="7.2"/><circle cx="309.5" cy="1450.5" r="7.2"/><circle cx="313.5" cy="1453.1" r="7.2"/><circle cx="317.5" cy="1452.4" r="7.2"/><circle cx="321.5" cy="1454.5" r="7.2"/><circle cx="325.5" cy="1451.0" r="7.2"/><circle cx="329.5" cy="1450.8" r="7.2"/><circle cx="333.5" cy="1454.5" r="7.2"/><circle cx="337.5" cy="1449.9" r="7.2"/><circle cx="341.4" cy="1452.6" r="7.2"/><circle cx="345.4" cy="1452.3" r="7.2"/><circle cx="349.4" cy="1448.6" r="7.2"/><circle cx="353.4" cy="1447.5" r="7.2"/><circle cx="357.4" cy="1448.4" r="7.2"/><circle cx="361.4" cy="1443.4" r="7.2"/><circle cx="365.4" cy="1442.0" r="7.2"/><circle cx="369.4" cy="1440.4" r="7.2"/><circle cx="373.4" cy="1442.5" r="7.2"/><circle cx="377.4" cy="1444.3" r="7.2"/><circle cx="381.3" cy="1442.1" r="7.2"/><circle cx="385.3" cy="1437.1" r="7.2"/><circle cx="389.3" cy="1435.6" r="7.2"/><circle cx="393.3" cy="1434.4" r="7.2"/><circle cx="397.3" cy="1433.7" r="7.2"/><circle cx="401.3" cy="1430.6" r="7.2"/><circle cx="405.3" cy="1429.3" r="7.2"/><circle cx="409.3" cy="1427.6" r="7.2"/><circle cx="413.3" cy="1424.7" r="7.2"/><circle cx="417.3" cy="1423.6" r="7.2"/><circle cx="421.2" cy="1422.7" r="7.2"/><circle cx="425.2" cy="1421.2" r="7.2"/><circle cx="429.2" cy="1421.7" r="7.2"/><circle cx="433.2" cy="1423.7" r="7.2"/><circle cx="437.2" cy="1420.8" r="7.2"/><circle cx="441.2" cy="1419.1" r="7.2"/><circle cx="445.2" cy="1415.1" r="7.2"/><circle cx="449.2" cy="1418.0" r="7.2"/><circle cx="453.2" cy="1413.2" r="7.2"/><circle cx="457.2" cy="1413.8" r="7.2"/><circle cx="461.1" cy="1417.9" r="7.2"/><circle cx="465.1" cy="1418.0" r="7.2"/><circle cx="469.1" cy="1417.0" r="7.2"/><circle cx="473.1" cy="1414.4" r="7.2"/><circle cx="477.1" cy="1416.5" r="7.2"/><circle cx="481.1" cy="1415.3" r="7.2"/><circle cx="485.1" cy="1416.6" r="7.2"/><circle cx="489.1" cy="1418.2" r="7.2"/><circle cx="493.1" cy="1412.8" r="7.2"/><circle cx="497.1" cy="1408.8" r="7.2"/><circle cx="501.0" cy="1405.6" r="7.2"/><circle cx="505.0" cy="1405.4" r="7.2"/><circle cx="509.0" cy="1403.4" r="7.2"/><circle cx="513.0" cy="1399.9" r="7.2"/><circle cx="517.0" cy="1400.7" r="7.2"/><circle cx="521.0" cy="1397.4" r="7.2"/><circle cx="525.0" cy="1401.0" r="7.2"/><circle cx="529.0" cy="1400.7" r="7.2"/><circle cx="533.0" cy="1401.0" r="7.2"/><circle cx="537.0" cy="1398.9" r="7.2"/><circle cx="540.9" cy="1402.4" r="7.2"/><circle cx="544.9" cy="1403.5" r="7.2"/><circle cx="548.9" cy="1404.9" r="7.2"/><circle cx="552.9" cy="1405.2" r="7.2"/><circle cx="556.9" cy="1402.3" r="7.2"/><circle cx="560.9" cy="1399.9" r="7.2"/><circle cx="564.9" cy="1401.6" r="7.2"/><circle cx="568.9" cy="1397.6" r="7.2"/><circle cx="572.9" cy="1396.0" r="7.2"/><circle cx="576.9" cy="1395.0" r="7.2"/><circle cx="580.8" cy="1387.3" r="7.2"/><circle cx="584.8" cy="1385.7" r="7.2"/><circle cx="588.8" cy="1383.4" r="7.2"/><circle cx="592.8" cy="1379.7" r="7.2"/><circle cx="596.8" cy="1374.7" r="7.2"/><circle cx="600.8" cy="1374.0" r="7.2"/><circle cx="604.8" cy="1369.6" r="7.2"/><circle cx="608.8" cy="1364.4" r="7.2"/><circle cx="612.8" cy="1363.1" r="7.2"/><circle cx="616.8" cy="1365.9" r="7.2"/><circle cx="620.7" cy="1365.1" r="7.2"/><circle cx="624.7" cy="1360.3" r="7.2"/><circle cx="628.7" cy="1365.5" r="7.2"/><circle cx="632.7" cy="1363.7" r="7.2"/><circle cx="636.7" cy="1365.0" r="7.2"/><circle cx="640.7" cy="1362.3" r="7.2"/><circle cx="644.7" cy="1363.1" r="7.2"/><circle cx="648.7" cy="1362.6" r="7.2"/><circle cx="652.7" cy="1370.4" r="7.2"/><circle cx="656.7" cy="1367.3" r="7.2"/><circle cx="660.6" cy="1372.4" r="7.2"/><circle cx="664.6" cy="1370.1" r="7.2"/><circle cx="668.6" cy="1372.6" r="7.2"/><circle cx="672.6" cy="1370.0" r="7.2"/><circle cx="676.6" cy="1372.9" r="7.2"/><circle cx="680.6" cy="1376.3" r="7.2"/><circle cx="684.6" cy="1373.9" r="7.2"/><circle cx="688.6" cy="1380.1" r="7.2"/><circle cx="692.6" cy="1381.1" r="7.2"/><circle cx="696.6" cy="1381.0" r="7.2"/><circle cx="700.5" cy="1384.6" r="7.2"/><circle cx="704.5" cy="1387.5" r="7.2"/><circle cx="708.5" cy="1391.4" r="7.2"/><circle cx="712.5" cy="1394.3" r="7.2"/><circle cx="716.5" cy="1398.5" r="7.2"/><circle cx="720.5" cy="1404.7" r="7.2"/><circle cx="724.5" cy="1408.6" r="7.2"/><circle cx="728.5" cy="1412.7" r="7.2"/><circle cx="732.5" cy="1419.1" r="7.2"/><circle cx="736.5" cy="1424.6" r="7.2"/><circle cx="740.4" cy="1423.9" r="7.2"/><circle cx="744.4" cy="1430.0" r="7.2"/><circle cx="748.4" cy="1431.6" r="7.2"/><circle cx="752.4" cy="1433.8" r="7.2"/><circle cx="756.4" cy="1440.7" r="7.2"/><circle cx="760.4" cy="1446.9" r="7.2"/><circle cx="764.4" cy="1459.9" r="7.2"/><circle cx="768.4" cy="1461.2" r="7.2"/><circle cx="772.4" cy="1468.2" r="7.2"/><circle cx="776.4" cy="1472.2" r="7.2"/><circle cx="780.3" cy="1476.7" r="7.2"/><circle cx="784.3" cy="1484.5" r="7.2"/><circle cx="788.3" cy="1488.5" r="7.2"/><circle cx="792.3" cy="1495.3" r="7.2"/><circle cx="796.3" cy="1499.9" r="7.2"/><circle cx="800.3" cy="1503.5" r="7.2"/><circle cx="804.3" cy="1509.6" r="7.2"/><circle cx="808.3" cy="1512.7" r="7.2"/><circle cx="812.3" cy="1516.0" r="7.2"/><circle cx="816.3" cy="1513.9" r="7.2"/><circle cx="820.2" cy="1516.6" r="7.2"/><circle cx="824.2" cy="1514.9" r="7.2"/><circle cx="828.2" cy="1520.4" r="7.2"/><circle cx="832.2" cy="1518.3" r="7.2"/><circle cx="836.2" cy="1517.4" r="7.2"/><circle cx="840.2" cy="1520.3" r="7.2"/><circle cx="844.2" cy="1521.5" r="7.2"/><circle cx="848.2" cy="1515.6" r="7.2"/><circle cx="852.2" cy="1515.5" r="7.2"/><circle cx="856.2" cy="1515.3" r="7.2"/><circle cx="860.1" cy="1513.8" r="7.2"/><circle cx="864.1" cy="1515.7" r="7.2"/><circle cx="868.1" cy="1512.9" r="7.2"/><circle cx="872.1" cy="1512.4" r="7.2"/><circle cx="876.1" cy="1514.2" r="7.2"/><circle cx="880.1" cy="1511.2" r="7.2"/><circle cx="884.1" cy="1512.8" r="7.2"/><circle cx="888.1" cy="1509.9" r="7.2"/><circle cx="892.1" cy="1509.0" r="7.2"/><circle cx="896.1" cy="1507.3" r="7.2"/><circle cx="900.0" cy="1513.0" r="7.2"/><circle cx="904.0" cy="1507.8" r="7.2"/><circle cx="908.0" cy="1507.4" r="7.2"/><circle cx="912.0" cy="1505.5" r="7.2"/><circle cx="916.0" cy="1504.3" r="7.2"/><circle cx="920.0" cy="1502.5" r="7.2"/><circle cx="924.0" cy="1504.3" r="7.2"/><circle cx="928.0" cy="1497.6" r="7.2"/><circle cx="932.0" cy="1495.3" r="7.2"/><circle cx="936.0" cy="1495.3" r="7.2"/><circle cx="939.9" cy="1494.3" r="7.2"/><circle cx="943.9" cy="1498.2" r="7.2"/><circle cx="947.9" cy="1498.4" r="7.2"/><circle cx="951.9" cy="1494.6" r="7.2"/><circle cx="955.9" cy="1492.9" r="7.2"/><circle cx="959.9" cy="1494.0" r="7.2"/><circle cx="963.9" cy="1496.7" r="7.2"/><circle cx="967.9" cy="1488.8" r="7.2"/><circle cx="971.9" cy="1494.2" r="7.2"/><circle cx="975.9" cy="1490.3" r="7.2"/><circle cx="979.8" cy="1492.8" r="7.2"/><circle cx="983.8" cy="1487.8" r="7.2"/><circle cx="987.8" cy="1488.0" r="7.2"/><circle cx="991.8" cy="1484.6" r="7.2"/><circle cx="995.8" cy="1484.5" r="7.2"/><circle cx="999.8" cy="1487.9" r="7.2"/><circle cx="1003.8" cy="1486.2" r="7.2"/><circle cx="1007.8" cy="1483.2" r="7.2"/><circle cx="1011.8" cy="1481.8" r="7.2"/><circle cx="1015.8" cy="1479.1" r="7.2"/><circle cx="1019.7" cy="1479.9" r="7.2"/><circle cx="1023.7" cy="1477.9" r="7.2"/><circle cx="1027.7" cy="1475.3" r="7.2"/><circle cx="1031.7" cy="1474.1" r="7.2"/><circle cx="1035.7" cy="1471.7" r="7.2"/><circle cx="1039.7" cy="1472.9" r="7.2"/><circle cx="1043.7" cy="1471.4" r="7.2"/><circle cx="1047.7" cy="1471.9" r="7.2"/><circle cx="1051.7" cy="1471.6" r="7.2"/><circle cx="1055.7" cy="1467.9" r="7.2"/><circle cx="1059.6" cy="1466.7" r="7.2"/><circle cx="1063.6" cy="1467.1" r="7.2"/><circle cx="1067.6" cy="1465.1" r="7.2"/><circle cx="1071.6" cy="1463.6" r="7.2"/><circle cx="1075.6" cy="1463.6" r="7.2"/><circle cx="1079.6" cy="1460.6" r="7.2"/><circle cx="1083.6" cy="1462.3" r="7.2"/><circle cx="1087.6" cy="1459.6" r="7.2"/><circle cx="1091.6" cy="1458.4" r="7.2"/><circle cx="1095.6" cy="1455.3" r="7.2"/><circle cx="1099.5" cy="1451.6" r="7.2"/><circle cx="1103.5" cy="1448.6" r="7.2"/><circle cx="1107.5" cy="1447.5" r="7.2"/><circle cx="1111.5" cy="1444.8" r="7.2"/><circle cx="1115.5" cy="1444.1" r="7.2"/><circle cx="1119.5" cy="1441.9" r="7.2"/><circle cx="1123.5" cy="1438.0" r="7.2"/><circle cx="1127.5" cy="1439.6" r="7.2"/><circle cx="1131.5" cy="1436.2" r="7.2"/><circle cx="1135.5" cy="1436.6" r="7.2"/><circle cx="1139.4" cy="1436.1" r="7.2"/><circle cx="1143.4" cy="1431.8" r="7.2"/><circle cx="1147.4" cy="1434.5" r="7.2"/><circle cx="1151.4" cy="1433.3" r="7.2"/><circle cx="1155.4" cy="1431.1" r="7.2"/><circle cx="1159.4" cy="1428.8" r="7.2"/><circle cx="1163.4" cy="1427.0" r="7.2"/><circle cx="1167.4" cy="1424.0" r="7.2"/><circle cx="1171.4" cy="1423.5" r="7.2"/><circle cx="1175.4" cy="1421.3" r="7.2"/><circle cx="1179.3" cy="1420.5" r="7.2"/><circle cx="1183.3" cy="1415.9" r="7.2"/><circle cx="1187.3" cy="1415.8" r="7.2"/><circle cx="1191.3" cy="1412.8" r="7.2"/><circle cx="1195.3" cy="1409.1" r="7.2"/><circle cx="1199.3" cy="1405.0" r="7.2"/><circle cx="1203.3" cy="1402.9" r="7.2"/><circle cx="1207.3" cy="1394.6" r="7.2"/><circle cx="1211.3" cy="1393.9" r="7.2"/><circle cx="1215.3" cy="1388.8" r="7.2"/><circle cx="1219.2" cy="1383.9" r="7.2"/><circle cx="1223.2" cy="1378.8" r="7.2"/><circle cx="1227.2" cy="1371.7" r="7.2"/><circle cx="1231.2" cy="1366.9" r="7.2"/><circle cx="1235.2" cy="1363.1" r="7.2"/><circle cx="1239.2" cy="1357.7" r="7.2"/><circle cx="1243.2" cy="1352.9" r="7.2"/><circle cx="1247.2" cy="1345.6" r="7.2"/><circle cx="1251.2" cy="1345.1" r="7.2"/><circle cx="1255.2" cy="1341.9" r="7.2"/><circle cx="1259.1" cy="1336.6" r="7.2"/><circle cx="1263.1" cy="1329.7" r="7.2"/><circle cx="1267.1" cy="1321.0" r="7.2"/><circle cx="1271.1" cy="1320.4" r="7.2"/><circle cx="1275.1" cy="1313.5" r="7.2"/><circle cx="1279.1" cy="1304.8" r="7.2"/><circle cx="1283.1" cy="1306.2" r="7.2"/><circle cx="1287.1" cy="1299.6" r="7.2"/><circle cx="1291.1" cy="1297.3" r="7.2"/><circle cx="1295.1" cy="1296.3" r="7.2"/><circle cx="1299.0" cy="1298.1" r="7.2"/><circle cx="1303.0" cy="1292.9" r="7.2"/><circle cx="1307.0" cy="1290.4" r="7.2"/><circle cx="1311.0" cy="1288.2" r="7.2"/><circle cx="1315.0" cy="1282.8" r="7.2"/><circle cx="1319.0" cy="1274.5" r="7.2"/><circle cx="1323.0" cy="1268.8" r="7.2"/><circle cx="1327.0" cy="1261.2" r="7.2"/><circle cx="1331.0" cy="1256.1" r="7.2"/><circle cx="1335.0" cy="1252.1" r="7.2"/><circle cx="1338.9" cy="1246.9" r="7.2"/><circle cx="1342.9" cy="1241.2" r="7.2"/><circle cx="1346.9" cy="1235.3" r="7.2"/><circle cx="1350.9" cy="1220.6" r="7.2"/><circle cx="1354.9" cy="1207.0" r="7.2"/><circle cx="1358.9" cy="1193.4" r="7.2"/><circle cx="1362.9" cy="1180.8" r="7.2"/><circle cx="1366.9" cy="1170.8" r="7.2"/><circle cx="1370.9" cy="1158.7" r="7.2"/><circle cx="1374.9" cy="1145.7" r="7.2"/><circle cx="1378.8" cy="1134.5" r="7.2"/><circle cx="1382.8" cy="1119.0" r="7.2"/><circle cx="1386.8" cy="1104.1" r="7.2"/><circle cx="1390.8" cy="1093.4" r="7.2"/><circle cx="1394.8" cy="1076.8" r="7.2"/><circle cx="1398.8" cy="1061.5" r="7.2"/><circle cx="1402.8" cy="1041.0" r="7.2"/><circle cx="1406.8" cy="1026.2" r="7.2"/><circle cx="1410.8" cy="1009.5" r="7.2"/><circle cx="1414.8" cy="993.2" r="7.2"/><circle cx="1418.7" cy="974.9" r="7.2"/><circle cx="1422.7" cy="962.1" r="7.2"/><circle cx="1426.7" cy="948.2" r="7.2"/><circle cx="1430.7" cy="931.9" r="7.2"/><circle cx="1434.7" cy="915.3" r="7.2"/><circle cx="1438.7" cy="901.5" r="7.2"/><circle cx="1442.7" cy="887.3" r="7.2"/><circle cx="1446.7" cy="866.1" r="7.2"/><circle cx="1450.7" cy="857.9" r="7.2"/><circle cx="1454.7" cy="847.6" r="7.2"/><circle cx="1458.6" cy="838.6" r="7.2"/><circle cx="1462.6" cy="832.9" r="7.2"/><circle cx="1466.6" cy="825.4" r="7.2"/><circle cx="1470.6" cy="818.7" r="7.2"/><circle cx="1474.6" cy="814.7" r="7.2"/><circle cx="1478.6" cy="812.4" r="7.2"/><circle cx="1482.6" cy="807.3" r="7.2"/><circle cx="1486.6" cy="805.5" r="7.2"/><circle cx="1490.6" cy="804.9" r="7.2"/><circle cx="1494.6" cy="806.4" r="7.2"/><circle cx="1498.5" cy="804.3" r="7.2"/><circle cx="1502.5" cy="807.3" r="7.2"/><circle cx="1506.5" cy="810.8" r="7.2"/><circle cx="1510.5" cy="815.8" r="7.2"/><circle cx="1514.5" cy="816.6" r="7.2"/><circle cx="1518.5" cy="822.8" r="7.2"/><circle cx="1522.5" cy="822.3" r="7.2"/><circle cx="1526.5" cy="828.4" r="7.2"/><circle cx="1530.5" cy="833.2" r="7.2"/><circle cx="1534.5" cy="838.5" r="7.2"/><circle cx="1538.4" cy="841.3" r="7.2"/><circle cx="1542.4" cy="838.3" r="7.2"/><circle cx="1546.4" cy="840.0" r="7.2"/><circle cx="1550.4" cy="841.9" r="7.2"/><circle cx="1554.4" cy="839.1" r="7.2"/><circle cx="1558.4" cy="835.8" r="7.2"/><circle cx="1562.4" cy="838.0" r="7.2"/><circle cx="1566.4" cy="833.3" r="7.2"/><circle cx="1570.4" cy="828.2" r="7.2"/><circle cx="1574.4" cy="820.1" r="7.2"/><circle cx="1578.3" cy="815.0" r="7.2"/><circle cx="1582.3" cy="803.1" r="7.2"/><circle cx="1586.3" cy="792.2" r="7.2"/><circle cx="1590.3" cy="775.5" r="7.2"/><circle cx="1594.3" cy="765.3" r="7.2"/><circle cx="1598.3" cy="756.6" r="7.2"/><circle cx="1602.3" cy="738.0" r="7.2"/><circle cx="1606.3" cy="715.2" r="7.2"/><circle cx="1610.3" cy="695.4" r="7.2"/><circle cx="1614.3" cy="673.2" r="7.2"/><circle cx="1618.2" cy="654.2" r="7.2"/><circle cx="1622.2" cy="633.1" r="7.2"/><circle cx="1626.2" cy="613.6" r="7.2"/><circle cx="1630.2" cy="586.4" r="7.2"/><circle cx="1634.2" cy="565.7" r="7.2"/><circle cx="1638.2" cy="544.5" r="7.2"/><circle cx="1642.2" cy="518.1" r="7.2"/><circle cx="1646.2" cy="487.5" r="7.2"/><circle cx="1650.2" cy="455.0" r="7.2"/><circle cx="1654.2" cy="429.4" r="7.2"/><circle cx="1658.1" cy="410.2" r="7.2"/><circle cx="1662.1" cy="385.5" r="7.2"/><circle cx="1666.1" cy="360.5" r="7.2"/><circle cx="1670.1" cy="336.1" r="7.2"/><circle cx="1674.1" cy="306.3" r="7.2"/><circle cx="1678.1" cy="284.7" r="7.2"/><circle cx="1682.1" cy="263.7" r="7.2"/><circle cx="1686.1" cy="245.6" r="7.2"/><circle cx="1690.1" cy="235.2" r="7.2"/><circle cx="1694.1" cy="219.0" r="7.2"/><circle cx="1698.0" cy="206.8" r="7.2"/><circle cx="1702.0" cy="198.0" r="7.2"/><circle cx="1706.0" cy="191.1" r="7.2"/><circle cx="1710.0" cy="183.4" r="7.2"/><circle cx="1714.0" cy="181.4" r="7.2"/><circle cx="1718.0" cy="183.1" r="7.2"/><circle cx="1722.0" cy="195.2" r="7.2"/><circle cx="1726.0" cy="210.6" r="7.2"/><circle cx="1730.0" cy="230.4" r="7.2"/><circle cx="1734.0" cy="253.3" r="7.2"/><circle cx="1737.9" cy="281.0" r="7.2"/><circle cx="1741.9" cy="304.2" r="7.2"/><circle cx="1745.9" cy="331.9" r="7.2"/><circle cx="1749.9" cy="372.3" r="7.2"/><circle cx="1753.9" cy="407.3" r="7.2"/><circle cx="1757.9" cy="448.4" r="7.2"/><circle cx="1761.9" cy="489.5" r="7.2"/><circle cx="1765.9" cy="539.7" r="7.2"/><circle cx="1769.9" cy="580.2" r="7.2"/><circle cx="1773.9" cy="629.5" r="7.2"/><circle cx="1777.8" cy="673.7" r="7.2"/><circle cx="1781.8" cy="719.7" r="7.2"/><circle cx="1785.8" cy="771.0" r="7.2"/><circle cx="1789.8" cy="818.8" r="7.2"/><circle cx="1793.8" cy="861.2" r="7.2"/><circle cx="1797.8" cy="899.5" r="7.2"/><circle cx="1801.8" cy="939.3" r="7.2"/><circle cx="1805.8" cy="978.1" r="7.2"/><circle cx="1809.8" cy="1020.6" r="7.2"/><circle cx="1813.8" cy="1058.5" r="7.2"/><circle cx="1817.7" cy="1096.3" r="7.2"/><circle cx="1821.7" cy="1136.1" r="7.2"/><circle cx="1825.7" cy="1170.5" r="7.2"/><circle cx="1829.7" cy="1204.7" r="7.2"/><circle cx="1833.7" cy="1242.3" r="7.2"/><circle cx="1837.7" cy="1273.9" r="7.2"/><circle cx="1841.7" cy="1305.5" r="7.2"/><circle cx="1845.7" cy="1328.3" r="7.2"/><circle cx="1849.7" cy="1345.2" r="7.2"/><circle cx="1853.7" cy="1364.3" r="7.2"/><circle cx="1857.6" cy="1375.5" r="7.2"/><circle cx="1861.6" cy="1389.1" r="7.2"/><circle cx="1865.6" cy="1401.5" r="7.2"/><circle cx="1869.6" cy="1417.3" r="7.2"/><circle cx="1873.6" cy="1429.9" r="7.2"/><circle cx="1877.6" cy="1449.8" r="7.2"/><circle cx="1881.6" cy="1459.5" r="7.2"/><circle cx="1885.6" cy="1470.1" r="7.2"/><circle cx="1889.6" cy="1479.4" r="7.2"/><circle cx="1893.6" cy="1483.0" r="7.2"/><circle cx="1897.5" cy="1486.4" r="7.2"/><circle cx="1901.5" cy="1494.2" r="7.2"/><circle cx="1905.5" cy="1499.7" r="7.2"/><circle cx="1909.5" cy="1507.0" r="7.2"/><circle cx="1913.5" cy="1513.7" r="7.2"/><circle cx="1917.5" cy="1515.1" r="7.2"/><circle cx="1921.5" cy="1523.7" r="7.2"/><circle cx="1925.5" cy="1524.3" r="7.2"/><circle cx="1929.5" cy="1531.2" r="7.2"/><circle cx="1933.5" cy="1533.9" r="7.2"/><circle cx="1937.4" cy="1536.8" r="7.2"/><circle cx="1941.4" cy="1540.3" r="7.2"/><circle cx="1945.4" cy="1542.4" r="7.2"/><circle cx="1949.4" cy="1545.1" r="7.2"/><circle cx="1953.4" cy="1545.9" r="7.2"/><circle cx="1957.4" cy="1551.2" r="7.2"/><circle cx="1961.4" cy="1556.6" r="7.2"/><circle cx="1965.4" cy="1558.4" r="7.2"/><circle cx="1969.4" cy="1558.4" r="7.2"/><circle cx="1973.4" cy="1558.4" r="7.2"/><circle cx="1977.3" cy="1557.0" r="7.2"/><circle cx="1981.3" cy="1562.0" r="7.2"/><circle cx="1985.3" cy="1560.7" r="7.2"/><circle cx="1989.3" cy="1562.2" r="7.2"/><circle cx="1993.3" cy="1563.3" r="7.2"/><circle cx="1997.3" cy="1565.5" r="7.2"/><circle cx="2001.3" cy="1565.9" r="7.2"/><circle cx="2005.3" cy="1567.6" r="7.2"/><circle cx="2009.3" cy="1566.8" r="7.2"/><circle cx="2013.3" cy="1568.8" r="7.2"/><circle cx="2017.2" cy="1574.2" r="7.2"/><circle cx="2021.2" cy="1570.5" r="7.2"/><circle cx="2025.2" cy="1570.7" r="7.2"/><circle cx="2029.2" cy="1572.5" r="7.2"/><circle cx="2033.2" cy="1573.3" r="7.2"/><circle cx="2037.2" cy="1570.5" r="7.2"/><circle cx="2041.2" cy="1572.6" r="7.2"/><circle cx="2045.2" cy="1575.0" r="7.2"/><circle cx="2049.2" cy="1574.2" r="7.2"/><circle cx="2053.2" cy="1574.3" r="7.2"/><circle cx="2057.1" cy="1577.1" r="7.2"/><circle cx="2061.1" cy="1573.3" r="7.2"/><circle cx="2065.1" cy="1574.9" r="7.2"/><circle cx="2069.1" cy="1574.0" r="7.2"/><circle cx="2073.1" cy="1577.7" r="7.2"/><circle cx="2077.1" cy="1571.6" r="7.2"/><circle cx="2081.1" cy="1574.0" r="7.2"/><circle cx="2085.1" cy="1574.4" r="7.2"/><circle cx="2089.1" cy="1576.6" r="7.2"/><circle cx="2093.1" cy="1576.7" r="7.2"/><circle cx="2097.0" cy="1578.2" r="7.2"/><circle cx="2101.0" cy="1573.0" r="7.2"/><circle cx="2105.0" cy="1577.3" r="7.2"/><circle cx="2109.0" cy="1575.6" r="7.2"/><circle cx="2113.0" cy="1575.0" r="7.2"/><circle cx="2117.0" cy="1577.4" r="7.2"/><circle cx="2121.0" cy="1574.9" r="7.2"/><circle cx="2125.0" cy="1572.9" r="7.2"/><circle cx="2129.0" cy="1576.1" r="7.2"/><circle cx="2133.0" cy="1574.2" r="7.2"/><circle cx="2136.9" cy="1575.9" r="7.2"/><circle cx="2140.9" cy="1577.9" r="7.2"/><circle cx="2144.9" cy="1577.9" r="7.2"/><circle cx="2148.9" cy="1580.3" r="7.2"/><circle cx="2152.9" cy="1577.2" r="7.2"/><circle cx="2156.9" cy="1575.0" r="7.2"/><circle cx="2160.9" cy="1576.5" r="7.2"/><circle cx="2164.9" cy="1576.3" r="7.2"/></g>
<path d="M524.0 1583.0L552.6 1583.0L554.7 1583.0M612.8 1583.4L615.1 1583.5L646.4 1583.7L646.5 1583.7M703.6 1583.5L724.3 1582.8L735.4 1581.8M784.8 1558.2L785.2 1557.8L786.8 1555.5L788.2 1553.2L789.6 1550.8L790.9 1548.4L792.0 1546.0L793.1 1543.7L793.9 1541.7L794.6 1539.8L795.2 1537.9L795.7 1536.0L796.1 1534.0L796.6 1532.0L797.1 1529.9L797.6 1528.1M811.5 1472.2L812.1 1468.8L812.8 1464.5L813.4 1460.2L814.0 1455.8L814.5 1451.4L815.0 1447.0L815.5 1442.7L815.9 1439.4M822.7 1382.6L822.9 1381.4L823.4 1377.2L823.9 1373.0L824.3 1368.6L824.7 1364.2L825.2 1359.9L825.6 1355.5L825.9 1351.3L826.0 1350.2M830.0 1292.8L830.1 1291.6L830.4 1286.0L830.7 1280.5L831.1 1275.0L831.5 1269.5L831.9 1263.9L832.2 1259.4M836.7 1201.6L836.7 1200.9L837.1 1195.0L837.5 1189.2L837.9 1183.4L838.2 1177.9L838.5 1172.4L838.7 1168.6M842.5 1111.0L842.9 1105.5L843.3 1099.7L843.7 1094.0L844.0 1088.4L844.2 1082.7L844.4 1077.8M847.1 1020.3L847.2 1019.8L847.5 1013.9L847.9 1008.1L848.2 1002.4L848.5 996.9L848.8 991.3L849.0 987.5M851.7 929.9L851.7 928.7L851.9 924.6L852.1 921.0L852.2 917.6L852.4 914.1L852.5 910.8L852.7 907.4L852.9 904.1L853.0 900.7L853.2 897.2L853.2 896.5M856.2 839.0L856.3 837.7L856.5 833.7L856.6 829.7L856.8 825.7L856.9 821.6L857.0 817.5L857.1 813.5L857.3 809.5L857.4 806.2M860.2 748.8L860.2 748.4L860.4 744.2L860.7 739.9L860.9 735.5L861.1 731.1L861.4 726.7L861.6 722.4L861.8 718.1L861.9 715.6M864.3 657.8L864.3 656.8L864.5 652.6L864.7 648.3L865.0 643.9L865.2 639.5L865.5 635.1L865.7 630.7L865.9 626.5L866.0 624.9M868.9 567.4L869.1 564.1L869.3 560.7L869.6 557.3L869.8 553.9L870.0 550.5L870.2 547.1L870.3 543.6L870.5 540.0L870.6 535.9L870.7 534.4M873.5 476.9L873.7 474.0L874.0 470.1L874.3 466.3L874.6 462.4L874.9 458.6L875.2 454.8L875.5 450.9L875.8 447.2L876.0 444.0M878.4 386.3L878.6 383.1L878.7 379.0L878.9 374.9L879.0 370.7L879.2 366.5L879.3 362.4L879.6 358.3L879.8 354.2L879.9 353.1M885.1 295.5L885.3 292.6L885.7 288.4L886.0 284.1L886.4 279.7L886.7 275.4L887.1 271.1L887.4 266.8L887.8 262.7L887.8 262.6M894.6 207.3L894.8 206.3L895.2 203.8L895.6 201.3L896.1 198.8L896.5 196.4L896.9 194.1L897.4 191.9L897.9 189.7L898.4 187.6L898.9 185.8L899.3 183.9L899.8 182.0L900.3 180.2L900.9 178.5L901.4 177.2M918.7 227.2L918.8 227.6L919.3 230.0L919.7 232.4L920.2 234.7L920.6 237.0L921.0 239.3L921.4 241.6L921.8 243.9L922.1 246.2L922.4 248.5L922.7 250.8L923.0 253.1L923.2 255.4L923.5 257.8L923.8 260.0M932.7 316.5L932.7 316.8L933.0 319.2L933.3 321.6L933.5 323.9L933.8 326.2L934.1 328.5L934.4 330.8L934.7 333.1L935.0 335.3L935.4 337.5L935.7 339.6L936.1 341.7L936.5 343.9L936.9 346.1L937.2 348.3L937.3 348.5M946.0 401.0L946.5 403.5L947.0 405.8L947.4 407.9L947.9 410.0L948.3 412.0L948.7 414.0L949.1 416.0L949.6 418.0L950.0 420.0L950.4 422.0L950.8 423.9L951.2 425.9L951.6 427.8L951.9 429.0M980.3 433.5L980.6 432.6L981.3 430.8L982.0 428.9L982.6 427.1L983.3 425.3L984.0 423.5L984.7 421.9L985.4 420.3L986.2 418.8L986.9 417.2L987.6 415.7L988.4 414.1L989.1 412.4L989.9 410.6L990.4 409.2M1015.1 374.0L1015.6 374.4L1016.2 374.9L1016.7 375.4L1017.2 376.0L1017.7 376.6L1018.2 377.3L1018.7 378.1L1019.2 378.9L1020.0 380.3L1020.8 381.9L1021.5 383.7L1022.3 385.6L1023.0 387.6L1023.7 389.7L1024.4 391.9L1025.1 394.1L1026.0 397.2L1026.5 399.0M1038.3 450.7L1038.5 451.4L1039.0 453.4L1039.4 455.3L1039.9 457.1L1040.3 458.9L1040.7 460.8L1041.1 462.6L1041.5 464.6L1041.9 466.8L1042.2 469.0L1042.5 471.3L1042.8 473.6L1043.0 475.9L1043.3 478.3L1043.6 480.8L1043.9 483.1M1050.5 540.3L1050.7 541.7L1051.2 545.3L1051.7 549.0L1052.2 552.8L1052.8 556.5L1053.3 560.3L1053.9 564.2L1054.4 568.0L1055.0 572.2L1055.1 573.1M1062.5 630.2L1062.9 633.6L1063.5 638.0L1064.1 642.5L1064.7 647.1L1065.3 651.7L1065.8 656.2L1066.4 660.6L1066.6 662.7M1073.9 719.8L1074.3 723.0L1074.7 727.5L1075.1 732.2L1075.4 737.0L1075.8 741.8L1076.2 746.4L1076.7 751.0L1076.9 753.0M1085.9 807.9L1086.4 811.5L1087.0 815.9L1087.5 820.3L1088.1 824.8L1088.7 829.2L1089.2 833.6L1089.8 837.7L1089.9 838.3M1098.0 893.4L1098.6 897.0L1099.4 901.4L1100.3 905.9L1101.1 910.4L1102.0 914.9L1102.9 919.4L1103.7 923.8L1104.2 926.2M1115.6 982.3L1116.8 986.9L1118.2 992.5L1119.6 997.9L1121.0 1003.3L1122.5 1008.8L1123.7 1013.6M1142.4 1068.0L1143.7 1071.1L1144.9 1074.1L1146.0 1077.0L1147.1 1079.8L1148.2 1082.5L1149.3 1085.3L1150.4 1088.1L1151.6 1091.0L1152.8 1094.0L1154.4 1097.8L1155.0 1099.2M1176.8 1150.6L1178.0 1153.6L1179.2 1156.8L1180.4 1160.0L1181.6 1163.1L1182.8 1166.2L1183.9 1169.4L1185.0 1172.5L1186.1 1175.6L1187.2 1178.8L1187.3 1179.1M1205.1 1231.9L1205.2 1232.1L1205.9 1234.0L1206.5 1235.8L1207.0 1237.5L1207.6 1239.1L1208.1 1240.7L1208.7 1242.3L1209.2 1244.0L1209.8 1245.8L1210.5 1248.0L1211.2 1250.4L1211.9 1252.7L1212.6 1255.1L1213.3 1257.6L1214.0 1260.1L1214.7 1262.7L1215.1 1264.0M1231.7 1319.6L1232.3 1321.3L1233.0 1323.4L1233.8 1325.4L1234.5 1327.4L1235.2 1329.3L1235.9 1331.2L1236.6 1333.1L1237.3 1335.1L1237.9 1337.1L1238.5 1339.0L1239.0 1340.9L1239.5 1342.8L1240.0 1344.8L1240.6 1346.8L1241.1 1348.9L1241.8 1351.0M1260.2 1403.9L1261.1 1406.0L1262.0 1408.1L1262.8 1410.1L1263.7 1412.0L1264.5 1414.0L1265.4 1415.9L1266.2 1417.8L1267.0 1419.8L1267.7 1421.8L1268.4 1423.8L1269.1 1425.7L1269.7 1427.7L1270.4 1429.7L1271.1 1431.7L1271.6 1433.1M1297.1 1478.6L1298.2 1480.2L1299.7 1482.3L1301.1 1484.2L1302.5 1486.2L1303.9 1488.0L1305.4 1489.8L1306.8 1491.5L1308.2 1493.1L1309.3 1494.3L1310.4 1495.3L1311.5 1496.3L1312.6 1497.2L1313.7 1498.1L1314.9 1499.0L1316.1 1500.0M1355.0 1530.1L1356.3 1530.9L1359.3 1532.6L1362.4 1534.3L1365.6 1535.9L1368.9 1537.5L1372.1 1539.1L1375.3 1540.6L1378.5 1542.0L1379.8 1542.7M1422.7 1562.6L1423.4 1562.9L1426.5 1563.9L1429.6 1564.9L1432.8 1565.8L1436.0 1566.7L1439.2 1567.6L1442.4 1568.4L1445.6 1569.2L1448.2 1569.8M1497.0 1576.8L1499.6 1577.1L1503.3 1577.5L1507.0 1578.0L1510.8 1578.5L1514.6 1579.0L1518.4 1579.4L1522.1 1579.8L1525.8 1580.2L1527.0 1580.3M1578.4 1582.4L1580.8 1582.4L1586.1 1582.4L1591.3 1582.4L1596.6 1582.4L1602.2 1582.4L1607.2 1582.4M1661.0 1582.4L1671.9 1582.4L1694.0 1582.4M1751.5 1582.4L1784.5 1582.4M1842.0 1582.4L1862.4 1582.4L1875.0 1582.4M1932.5 1582.5L1938.9 1582.5L1965.5 1582.5M2023.0 1582.5L2056.0 1582.5M2113.5 1582.5L2146.5 1582.5" stroke="#000" stroke-width="10.3"/><g fill="#000" stroke="none"><circle cx="583.4" cy="1583.2" r="5.40"/><circle cx="675.9" cy="1583.8" r="5.40"/><circle cx="762.3" cy="1575.7" r="5.40"/><circle cx="805.0" cy="1500.3" r="5.40"/><circle cx="818.7" cy="1410.7" r="5.40"/><circle cx="828.2" cy="1321.9" r="5.40"/><circle cx="834.5" cy="1230.3" r="5.40"/><circle cx="840.2" cy="1139.8" r="5.40"/><circle cx="845.5" cy="1048.9" r="5.40"/><circle cx="850.5" cy="958.9" r="5.40"/><circle cx="854.7" cy="867.5" r="5.40"/><circle cx="858.5" cy="777.7" r="5.40"/><circle cx="863.1" cy="686.6" r="5.40"/><circle cx="867.0" cy="596.1" r="5.40"/><circle cx="871.4" cy="505.6" r="5.40"/><circle cx="876.8" cy="415.3" r="5.40"/><circle cx="882.6" cy="324.2" r="5.40"/><circle cx="890.8" cy="234.0" r="5.40"/><circle cx="912.9" cy="198.8" r="5.40"/><circle cx="928.9" cy="288.5" r="5.40"/><circle cx="941.1" cy="376.5" r="5.40"/><circle cx="964.1" cy="448.6" r="5.40"/><circle cx="998.6" cy="387.8" r="5.40"/><circle cx="1031.7" cy="422.8" r="5.40"/><circle cx="1047.4" cy="511.5" r="5.40"/><circle cx="1058.9" cy="601.8" r="5.40"/><circle cx="1069.9" cy="691.1" r="5.40"/><circle cx="1081.8" cy="781.6" r="5.40"/><circle cx="1093.7" cy="864.7" r="5.40"/><circle cx="1109.3" cy="954.8" r="5.40"/><circle cx="1131.7" cy="1040.7" r="5.40"/><circle cx="1166.6" cy="1126.1" r="5.40"/><circle cx="1195.5" cy="1204.3" r="5.40"/><circle cx="1223.5" cy="1292.1" r="5.40"/><circle cx="1251.0" cy="1378.2" r="5.40"/><circle cx="1283.5" cy="1457.6" r="5.40"/><circle cx="1335.3" cy="1516.0" r="5.40"/><circle cx="1401.7" cy="1553.1" r="5.40"/><circle cx="1470.8" cy="1574.4" r="5.40"/><circle cx="1553.3" cy="1582.0" r="5.40"/><circle cx="1632.3" cy="1582.4" r="5.40"/><circle cx="1722.8" cy="1582.4" r="5.40"/><circle cx="1813.3" cy="1582.4" r="5.40"/><circle cx="1903.8" cy="1582.4" r="5.40"/><circle cx="1994.3" cy="1582.5" r="5.40"/><circle cx="2084.8" cy="1582.5" r="5.40"/></g>
<path d="M1763.7 1455.7L1764.3 1457.3L1764.9 1458.9L1765.5 1460.5L1766.2 1462.1L1766.8 1463.7L1767.4 1465.3L1768.0 1466.8L1768.7 1468.3L1769.3 1469.6L1769.6 1470.2M1800.6 1482.7L1801.2 1481.1L1801.7 1479.3L1802.3 1477.6L1802.8 1475.9L1803.4 1474.1L1803.9 1472.3L1804.4 1470.5L1804.8 1468.6L1805.3 1466.7L1805.7 1464.8L1806.1 1462.8L1806.6 1460.8L1806.9 1459.7M1816.4 1410.4L1816.7 1409.2L1817.1 1407.4L1817.4 1405.6L1817.8 1403.8L1818.2 1402.0L1818.5 1400.0L1818.9 1397.7L1819.2 1395.3L1819.5 1392.9L1819.7 1390.5L1820.0 1388.0L1820.3 1385.4L1820.6 1382.7L1821.0 1380.0L1821.4 1377.0M1829.2 1320.0L1829.6 1317.1L1830.0 1312.6L1830.4 1308.0L1830.9 1303.3L1831.3 1298.7L1831.8 1294.1L1832.2 1289.6L1832.4 1287.9M1838.2 1234.9L1838.5 1231.6L1838.9 1228.3L1839.2 1225.0L1839.6 1221.7L1840.0 1218.4L1840.3 1215.1L1840.7 1211.7L1841.1 1208.4L1841.4 1206.0M1846.0 1152.3L1846.2 1149.0L1846.5 1144.9L1846.7 1140.6L1847.1 1136.3L1847.4 1132.0L1847.7 1127.8L1848.0 1123.6L1848.3 1119.6M1852.6 1061.8L1852.6 1061.8L1852.9 1057.7L1853.3 1053.5L1853.6 1049.2L1854.0 1044.9L1854.4 1040.7L1854.8 1036.4L1855.1 1032.2L1855.5 1028.2M1859.5 970.7L1859.6 970.1L1859.9 965.6L1860.2 960.9L1860.6 956.1L1860.9 951.3L1861.3 946.6L1861.6 942.0L1862.0 938.2M1865.7 881.0L1865.9 877.9L1866.2 873.3L1866.6 868.6L1867.1 863.8L1867.5 859.0L1867.9 854.3L1868.3 849.8L1868.4 848.0M1872.6 790.6L1872.8 788.4L1873.0 783.9L1873.1 779.2L1873.3 774.4L1873.4 769.6L1873.5 764.9L1873.6 760.3L1873.7 757.6M1878.2 702.4L1878.3 699.9L1878.4 695.2L1878.5 690.4L1878.6 685.5L1878.7 680.7L1878.9 676.0L1879.1 671.6L1879.1 671.6M1884.0 616.0L1884.1 614.4L1884.4 609.5L1884.7 604.4L1884.9 599.2L1885.1 594.1L1885.3 589.0L1885.5 584.1L1885.6 582.8M1888.3 525.2L1888.5 524.1L1888.9 522.4L1889.4 520.8L1889.8 519.2L1890.2 517.5L1890.6 515.7L1891.0 513.8L1891.4 511.2L1891.8 508.4L1892.1 505.5L1892.4 502.6L1892.7 499.5L1892.9 496.5L1893.1 493.4L1893.2 492.8M1896.4 440.8L1896.4 439.6L1896.5 436.8L1896.7 434.2L1896.8 431.7L1896.9 429.8L1897.1 428.1L1897.2 426.4L1897.4 424.8L1897.5 423.1L1897.7 421.4L1897.8 419.6L1898.0 417.6L1898.2 414.6L1898.3 414.0M1901.2 366.6L1901.5 363.6L1901.8 360.9L1902.0 358.2L1902.3 355.6L1902.6 353.0L1902.8 350.5L1903.2 347.9L1903.5 345.2L1903.9 342.5L1904.4 339.3L1904.4 339.2M1911.6 292.3L1911.7 291.7L1912.1 288.5L1912.5 285.8L1912.8 283.1L1913.2 280.5L1913.5 277.9L1913.9 275.3L1914.2 272.7L1914.6 270.1L1914.9 267.4L1915.1 265.6M1970.7 365.9L1970.9 367.5L1971.3 370.7L1971.5 372.7L1971.8 374.5L1972.0 376.2L1972.2 377.8L1972.4 379.5L1972.6 381.1L1972.9 382.8L1973.1 384.7L1973.4 387.2L1973.7 389.8L1974.0 392.6L1974.2 394.2M1978.9 444.9L1979.0 445.8L1979.2 448.9L1979.5 452.0L1979.7 455.0L1979.9 458.1L1980.2 461.1L1980.4 464.0L1980.6 466.7L1980.9 469.2L1981.1 470.8L1981.3 472.4L1981.5 473.8L1981.7 474.8M1987.0 529.2L1987.2 530.7L1987.6 533.5L1988.0 536.3L1988.4 539.0L1988.8 541.7L1989.1 544.3L1989.4 546.8L1989.6 549.1L1989.7 550.7L1989.7 552.2L1989.7 553.6L1989.7 555.0L1989.6 556.4L1989.6 557.8L1989.6 559.4L1989.7 561.1L1989.7 561.7M1996.9 618.5L1997.0 619.0L1997.4 623.2L1997.7 627.4L1997.9 631.8L1998.1 636.2L1998.3 640.5L1998.5 644.9L1998.7 649.1L1998.8 651.4M2002.9 709.1L2003.3 712.7L2004.0 716.9L2004.7 721.2L2005.5 725.6L2006.2 730.0L2006.9 734.3L2007.6 738.5L2008.0 742.2M2014.3 797.1L2014.5 798.6L2015.0 803.3L2015.6 808.2L2016.1 813.1L2016.5 817.9L2016.9 822.6L2017.3 827.0L2017.3 827.1M2024.2 874.3L2024.4 878.4L2024.6 883.6L2024.7 888.8L2024.9 893.7L2025.2 898.1L2025.3 899.7M2032.0 949.9L2032.4 952.5L2032.9 957.0L2033.5 961.8L2034.0 966.6L2034.5 971.4L2034.9 976.1L2035.4 980.7L2035.5 982.4M2042.5 1031.0L2042.8 1032.7L2043.3 1035.1L2043.8 1037.4L2044.3 1039.8L2044.7 1042.2L2045.1 1044.7L2045.5 1047.3L2045.9 1050.5L2046.2 1053.8L2046.2 1054.4M2051.8 1099.4L2052.1 1101.3L2052.7 1105.0L2053.2 1108.7L2053.7 1112.4L2054.1 1116.2L2054.5 1119.9L2055.0 1123.6L2055.4 1127.2L2055.4 1127.5M2067.0 1173.1L2067.2 1174.1L2067.6 1177.7L2067.9 1181.5L2068.3 1185.3L2068.6 1189.1L2069.0 1192.8L2069.5 1196.4L2069.9 1199.0M2079.3 1240.3L2079.6 1241.5L2080.3 1244.5L2080.9 1248.1L2081.4 1252.0L2081.9 1256.1L2082.3 1260.1L2082.6 1262.6M2094.8 1299.6L2094.8 1299.8L2095.3 1303.0L2095.8 1306.3L2096.3 1309.8L2096.9 1313.3L2097.4 1316.7L2098.1 1320.1L2098.7 1323.0M2116.5 1358.4L2117.2 1360.6L2118.1 1363.6L2118.9 1366.7L2119.7 1369.9L2120.6 1373.1L2121.4 1376.1L2122.4 1379.1L2122.6 1379.7M2136.2 1413.1L2136.3 1413.5L2137.2 1415.3L2138.1 1417.0L2139.0 1418.7L2140.0 1420.3L2141.0 1422.0L2142.0 1423.6L2143.0 1425.1L2143.9 1426.6L2144.8 1428.0L2145.5 1429.0L2145.9 1429.8M1763.7 1455.7L1764.3 1457.3L1764.9 1458.9L1765.5 1460.5L1766.2 1462.1L1766.8 1463.7L1767.4 1465.3L1768.0 1466.8L1768.7 1468.3L1769.3 1469.6L1769.9 1471.0L1770.6 1472.3L1771.2 1473.5L1771.8 1474.8L1772.5 1476.0L1773.1 1477.2L1773.8 1478.4L1774.4 1479.4L1775.0 1480.4L1775.6 1481.3L1776.2 1482.3L1776.8 1483.2M1920.6 212.4L1920.9 209.0L1921.2 205.5L1921.4 202.1L1921.7 198.7L1922.1 195.6L1922.4 192.6L1922.9 190.0L1923.2 188.5L1923.6 187.0L1923.9 185.7L1924.3 184.4L1924.7 183.2L1925.1 182.0L1925.5 181.0L1926.0 180.0L1926.4 179.3L1926.7 178.7L1927.1 178.1L1927.5 177.5L1927.9 177.0L1928.3 176.6L1928.8 176.2L1929.3 176.0L1929.8 175.9L1930.4 175.9L1931.0 175.9L1931.6 176.0L1932.3 176.2L1932.9 176.5L1933.5 176.7L1934.0 177.0L1934.5 177.3L1935.1 177.7L1935.6 178.1L1936.1 178.6L1936.5 179.1L1937.0 179.7L1937.3 180.3L1937.7 181.0L1938.1 182.4L1938.3 184.2L1938.4 186.3L1938.4 188.4L1938.4 190.5L1938.5 192.4L1938.8 193.9L1939.3 195.0L1939.7 195.4L1940.1 195.6L1940.5 195.8L1941.0 196.0L1941.5 196.1L1942.0 196.1L1942.5 196.1L1943.0 196.0L1943.6 195.8L1944.1 195.4L1944.7 194.8L1945.3 194.2L1945.8 193.7L1946.4 193.2L1946.9 193.0L1947.3 193.0L1948.1 194.2L1948.5 196.7L1948.7 200.2L1948.7 204.4L1948.7 208.9L1948.7 213.6L1948.8 218.0L1949.1 222.0M1953.7 247.2L1954.4 250.9L1955.0 254.7L1955.6 258.5L1956.2 262.4L1956.8 266.2L1957.4 270.1L1957.9 273.9L1958.5 277.7L1959.1 281.5L1959.7 285.1M1962.7 303.3L1963.3 306.6L1963.8 309.6L1964.1 311.6L1964.4 313.4L1964.7 315.2L1965.0 316.8L1965.3 318.5L1965.6 320.2L1965.8 321.9" stroke="#f00" stroke-width="10.3"/><g fill="#f00" stroke="none"><circle cx="1785.1" cy="1494.1" r="5.40"/><circle cx="1811.1" cy="1439.3" r="5.40"/><circle cx="1825.9" cy="1347.9" r="5.40"/><circle cx="1836.3" cy="1260.1" r="5.40"/><circle cx="1844.2" cy="1180.8" r="5.40"/><circle cx="1850.7" cy="1091.1" r="5.40"/><circle cx="1857.9" cy="999.0" r="5.40"/><circle cx="1864.6" cy="909.9" r="5.40"/><circle cx="1869.9" cy="819.1" r="5.40"/><circle cx="1875.1" cy="729.0" r="5.40"/><circle cx="1881.2" cy="644.8" r="5.40"/><circle cx="1886.3" cy="553.8" r="5.40"/><circle cx="1893.8" cy="464.1" r="5.40"/><circle cx="1899.7" cy="390.6" r="5.40"/><circle cx="1908.6" cy="315.5" r="5.40"/><circle cx="1917.5" cy="242.3" r="5.40"/><circle cx="1968.0" cy="341.3" r="5.40"/><circle cx="1976.7" cy="418.8" r="5.40"/><circle cx="1983.7" cy="500.9" r="5.40"/><circle cx="1992.8" cy="590.0" r="5.40"/><circle cx="2000.7" cy="680.1" r="5.40"/><circle cx="2010.2" cy="771.2" r="5.40"/><circle cx="2018.6" cy="853.3" r="5.40"/><circle cx="2027.1" cy="921.8" r="5.40"/><circle cx="2038.3" cy="1010.8" r="5.40"/><circle cx="2047.9" cy="1075.0" r="5.40"/><circle cx="2059.4" cy="1151.9" r="5.40"/><circle cx="2074.3" cy="1221.2" r="5.40"/><circle cx="2091.2" cy="1279.4" r="5.40"/><circle cx="2106.8" cy="1341.9" r="5.40"/><circle cx="2129.8" cy="1397.6" r="5.40"/><circle cx="2156.2" cy="1443.1" r="5.40"/></g>
<path d="M1723.7 671.6L1724.5 667.6L1725.4 663.7L1726.3 659.7L1727.2 655.7L1728.0 651.8L1728.8 647.8L1729.6 643.9L1730.3 640.0L1730.4 639.6M1738.2 582.5L1738.2 582.1L1738.7 577.9L1739.2 573.7L1739.7 569.3L1740.2 564.9L1740.7 560.6L1741.2 556.2L1741.7 552.0L1742.0 549.6M1748.9 493.1L1749.0 492.7L1749.4 488.9L1749.9 485.2L1750.3 481.3L1750.8 477.5L1751.2 473.7L1751.6 469.8L1752.1 466.0L1752.5 462.2L1752.6 461.2M1759.1 405.6L1759.5 403.5L1760.0 400.9L1760.6 398.4L1761.1 395.9L1761.7 393.6L1762.3 391.2L1763.0 389.0L1763.6 386.8L1764.2 384.7L1764.7 383.1L1765.2 381.7L1765.7 380.3L1766.2 379.0L1766.7 377.6L1767.2 376.2L1767.7 374.7M1778.3 321.6L1778.3 321.4L1778.7 319.2L1779.0 317.0L1779.2 314.9L1779.5 312.8L1779.7 310.8L1780.0 308.8L1780.3 306.8L1780.7 304.9L1781.1 303.2L1781.6 301.7L1782.0 300.1L1782.5 298.6L1783.1 297.1L1783.6 295.5L1784.1 293.8L1784.5 292.3M1796.5 245.3L1797.4 242.2L1798.3 239.2L1798.8 237.2L1799.3 235.3L1799.7 233.5L1800.1 231.8L1800.4 230.1L1800.8 228.4L1801.3 226.8L1801.8 225.1L1802.3 223.5L1802.9 221.8L1803.3 220.6M1830.5 231.3L1830.7 232.3L1831.3 234.7L1831.8 237.0L1832.3 239.2L1832.8 241.2L1833.3 243.2L1833.7 245.2L1834.1 247.2L1834.6 249.2L1835.0 251.2L1835.4 253.4L1835.8 255.6L1836.3 258.4M1845.9 309.4L1846.0 309.7L1846.3 312.1L1846.5 314.4L1846.8 316.8L1847.1 319.1L1847.3 321.4L1847.6 323.7L1847.9 325.9L1848.2 328.0L1848.4 330.2L1848.7 332.3L1849.0 334.4L1849.3 336.6L1849.6 338.9L1849.9 341.3M1857.3 397.8L1857.4 398.5L1857.8 401.7L1858.3 405.0L1858.8 408.2L1859.3 411.4L1859.8 414.4L1860.2 417.3L1860.5 420.0L1860.7 421.8L1860.9 423.4L1861.0 424.9L1861.1 426.4L1861.2 427.9L1861.3 429.4L1861.4 430.9M1869.0 488.0L1869.1 489.0L1869.5 492.4L1869.8 495.8L1870.0 499.2L1870.3 502.6L1870.5 505.8L1870.8 508.8L1871.0 511.5L1871.2 513.1L1871.3 514.6L1871.5 516.0L1871.6 517.3L1871.8 518.7L1871.9 520.1L1872.0 520.6M1876.6 577.8L1876.8 581.0L1877.2 585.3L1877.4 589.6L1877.7 594.0L1878.0 598.4L1878.3 602.7L1878.7 607.0L1879.1 610.9M1887.1 668.0L1887.4 670.8L1887.7 675.3L1888.0 680.0L1888.2 684.8L1888.4 689.6L1888.6 694.3L1888.8 698.9L1889.0 700.9M1895.1 758.1L1895.3 760.3L1895.6 764.8L1895.9 769.5L1896.2 774.3L1896.5 779.1L1896.8 783.8L1897.1 788.4L1897.3 791.1M1904.3 848.3L1904.5 850.9L1905.0 855.4L1905.4 859.9L1905.8 864.5L1906.2 869.1L1906.6 873.6L1907.1 878.0L1907.4 881.2M1913.4 938.2L1913.7 942.0L1914.2 946.6L1914.7 951.4L1915.2 956.2L1915.7 960.9L1916.2 965.6L1916.8 970.1L1916.8 970.5M1924.0 1027.9L1924.0 1028.1L1924.4 1032.2L1924.9 1036.4L1925.3 1040.7L1925.8 1045.0L1926.3 1049.3L1926.7 1053.5L1927.2 1057.7L1927.7 1061.4M1934.8 1118.9L1934.9 1119.5L1935.5 1123.6L1936.1 1127.8L1936.7 1132.1L1937.3 1136.4L1937.9 1140.7L1938.5 1144.9L1939.1 1149.1L1939.5 1151.3M1946.9 1208.4L1946.9 1208.4L1947.6 1212.5L1948.3 1216.7L1949.0 1221.0L1949.8 1225.3L1950.6 1229.6L1951.4 1233.9L1952.2 1238.0L1952.7 1241.1M1963.8 1298.0L1964.5 1301.5L1965.2 1305.6L1965.9 1309.9L1966.6 1314.2L1967.3 1318.5L1968.1 1322.8L1968.9 1326.9L1969.6 1330.7M1984.3 1386.6L1985.3 1390.2L1986.4 1394.1L1987.6 1398.1L1988.7 1402.1L1989.9 1406.1L1991.1 1410.1L1992.3 1414.0L1993.4 1417.9L1993.6 1418.4M2011.2 1469.2L2012.0 1471.0L2013.2 1473.7L2014.3 1476.3L2015.4 1478.9L2016.5 1481.4L2017.6 1483.8L2018.6 1486.0L2019.3 1487.4L2019.8 1488.7L2020.4 1489.9L2020.9 1491.1L2021.5 1492.3L2022.1 1493.5L2022.8 1494.7L2023.2 1495.3M2053.2 1534.5L2053.9 1535.2L2055.8 1537.0L2057.7 1538.8L2059.7 1540.5L2061.7 1542.2L2063.6 1543.7L2065.5 1545.2L2067.4 1546.6L2069.1 1547.8L2070.3 1548.6L2071.3 1549.3L2072.4 1549.9L2073.4 1550.5L2074.4 1551.1L2075.3 1551.5M2124.8 1570.5L2125.9 1570.8L2129.1 1571.4L2132.3 1572.1L2135.6 1572.7L2138.7 1573.2L2141.8 1573.8L2144.8 1574.3L2147.2 1574.7L2149.6 1575.1L2151.8 1575.4L2154.1 1575.7L2156.3 1576.0L2157.3 1576.2" stroke="#00f" stroke-width="10.3"/><g fill="#00f" stroke="none"><circle cx="1734.3" cy="611.1" r="5.40"/><circle cx="1745.4" cy="520.9" r="5.40"/><circle cx="1755.8" cy="433.4" r="5.40"/><circle cx="1772.9" cy="347.2" r="5.40"/><circle cx="1790.0" cy="266.7" r="5.40"/><circle cx="1818.9" cy="211.3" r="5.40"/><circle cx="1839.8" cy="282.2" r="5.40"/><circle cx="1853.4" cy="369.0" r="5.40"/><circle cx="1864.0" cy="459.9" r="5.40"/><circle cx="1873.6" cy="549.1" r="5.40"/><circle cx="1883.0" cy="639.5" r="5.40"/><circle cx="1891.5" cy="729.6" r="5.40"/><circle cx="1900.9" cy="819.6" r="5.40"/><circle cx="1910.7" cy="909.9" r="5.40"/><circle cx="1921.0" cy="998.6" r="5.40"/><circle cx="1931.3" cy="1090.6" r="5.40"/><circle cx="1943.3" cy="1179.6" r="5.40"/><circle cx="1957.7" cy="1269.7" r="5.40"/><circle cx="1977.0" cy="1358.7" r="5.40"/><circle cx="2001.7" cy="1446.1" r="5.40"/><circle cx="2037.5" cy="1515.8" r="5.40"/><circle cx="2097.3" cy="1562.2" r="5.40"/></g>
</g>
<path d="M247.0 47.0H2162.5V1586.3H247.0Z" fill="none" stroke="#000" stroke-width="5.4" stroke-linejoin="miter"/>
<path d="M217.0 1586.3H247.0M217.0 1446.4H247.0M217.0 1306.4H247.0M217.0 1166.5H247.0M217.0 1026.6H247.0M217.0 886.6H247.0M217.0 746.7H247.0M217.0 606.7H247.0M217.0 466.8H247.0M217.0 326.9H247.0M217.0 186.9H247.0M217.0 47.0H247.0M232.0 1516.3H247.0M232.0 1376.4H247.0M232.0 1236.5H247.0M232.0 1096.5H247.0M232.0 956.6H247.0M232.0 816.6H247.0M232.0 676.7H247.0M232.0 536.8H247.0M232.0 396.8H247.0M232.0 256.9H247.0M232.0 117.0H247.0M566.2 1586.3V1616.3M965.3 1586.3V1616.3M1364.4 1586.3V1616.3M1763.4 1586.3V1616.3M2162.5 1586.3V1616.3M366.7 1586.3V1601.3M765.8 1586.3V1601.3M1164.8 1586.3V1601.3M1563.9 1586.3V1601.3M1963.0 1586.3V1601.3" stroke="#000" stroke-width="5.4" fill="none"/>
<text x="196.2" y="1605.6" font-size="68" text-anchor="end" textLength="82.9" lengthAdjust="spacingAndGlyphs">0.0</text>
<text x="196.2" y="1465.7" font-size="68" text-anchor="end" textLength="82.9" lengthAdjust="spacingAndGlyphs">0.1</text>
<text x="196.2" y="1325.7" font-size="68" text-anchor="end" textLength="82.9" lengthAdjust="spacingAndGlyphs">0.2</text>
<text x="196.2" y="1185.8" font-size="68" text-anchor="end" textLength="82.9" lengthAdjust="spacingAndGlyphs">0.3</text>
<text x="196.2" y="1045.9" font-size="68" text-anchor="end" textLength="82.9" lengthAdjust="spacingAndGlyphs">0.4</text>
<text x="196.2" y="905.9" font-size="68" text-anchor="end" textLength="82.9" lengthAdjust="spacingAndGlyphs">0.5</text>
<text x="196.2" y="766.0" font-size="68" text-anchor="end" textLength="82.9" lengthAdjust="spacingAndGlyphs">0.6</text>
<text x="196.2" y="626.0" font-size="68" text-anchor="end" textLength="82.9" lengthAdjust="spacingAndGlyphs">0.7</text>
<text x="196.2" y="486.1" font-size="68" text-anchor="end" textLength="82.9" lengthAdjust="spacingAndGlyphs">0.8</text>
<text x="196.2" y="346.2" font-size="68" text-anchor="end" textLength="82.9" lengthAdjust="spacingAndGlyphs">0.9</text>
<text x="196.2" y="206.2" font-size="68" text-anchor="end" textLength="82.9" lengthAdjust="spacingAndGlyphs">1.0</text>
<text x="196.2" y="66.3" font-size="68" text-anchor="end" textLength="82.9" lengthAdjust="spacingAndGlyphs">1.1</text>
<text x="566.2" y="1688" font-size="68" text-anchor="middle" textLength="99" lengthAdjust="spacingAndGlyphs">400</text>
<text x="965.3" y="1688" font-size="68" text-anchor="middle" textLength="99" lengthAdjust="spacingAndGlyphs">500</text>
<text x="1364.4" y="1688" font-size="68" text-anchor="middle" textLength="99" lengthAdjust="spacingAndGlyphs">600</text>
<text x="1763.4" y="1688" font-size="68" text-anchor="middle" textLength="99" lengthAdjust="spacingAndGlyphs">700</text>
<text x="2162.5" y="1688" font-size="68" text-anchor="middle" textLength="99" lengthAdjust="spacingAndGlyphs">800</text>
<text x="906.5" y="1814.6" font-size="81.5" textLength="594" lengthAdjust="spacingAndGlyphs">Wavelength [nm]</text>
<text transform="translate(79.9 1469.8) rotate(-90)" x="0" y="0" font-size="81.5" textLength="1304" lengthAdjust="spacingAndGlyphs">Normalized absorption/emission [a.u.]</text>
<text x="1177" y="190.7" font-size="67" textLength="316" lengthAdjust="spacingAndGlyphs">Absorption</text>
<text x="1177.3" y="522.1" font-size="67" textLength="253.5" lengthAdjust="spacingAndGlyphs">Emission</text>
<path d="M1177 252.3H1325.5" stroke="#000" stroke-width="10.7" stroke-linecap="round"/>
<text x="1341.8" y="274.0" font-size="67">(1)</text>
<path d="M1177 334.7H1325.5" stroke="#f00" stroke-width="10.7" stroke-linecap="round"/>
<text x="1341.8" y="356.4" font-size="67">(2)</text>
<path d="M1177 417.7H1325.5" stroke="#00f" stroke-width="10.7" stroke-linecap="round"/>
<text x="1341.8" y="439.4" font-size="67">(3)</text>
<path d="M1177 582.9H1211.6M1239.6 582.9H1239.6M1267.7 582.9H1302.8" stroke="#000" stroke-width="10.7" stroke-linecap="round"/>
<text x="1341.8" y="604.6" font-size="67">(1)</text>
<path d="M1177 665.3H1211.6M1239.6 665.3H1239.6M1267.7 665.3H1302.8" stroke="#f00" stroke-width="10.7" stroke-linecap="round"/>
<text x="1341.8" y="687.0" font-size="67">(2)</text>
<path d="M1177 748.7H1211.6M1239.6 748.7H1239.6M1267.7 748.7H1302.8" stroke="#00f" stroke-width="10.7" stroke-linecap="round"/>
<text x="1341.8" y="770.4" font-size="67">(3)</text>
</svg></body></html>
